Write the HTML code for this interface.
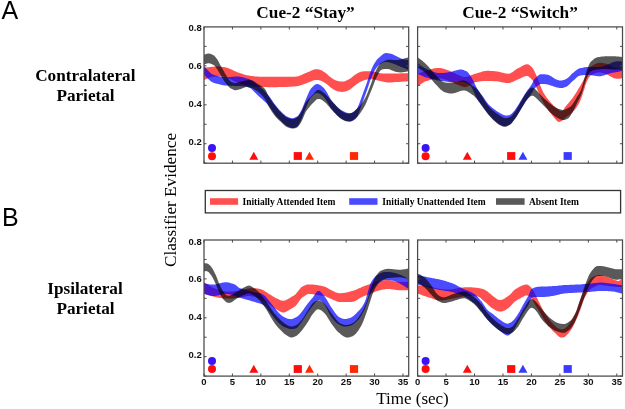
<!DOCTYPE html>
<html><head><meta charset="utf-8">
<style>
html,body{margin:0;padding:0;background:#fff;width:625px;height:409px;overflow:hidden}
svg{display:block;will-change:transform}
</style></head><body>
<svg width="625" height="409" viewBox="0 0 625 409">
<text x="1.5" y="19.3" font-family="Liberation Sans" font-size="25" fill="#000">A</text>
<text x="2" y="226.4" font-family="Liberation Sans" font-size="25" fill="#000">B</text>
<text x="305.5" y="17.9" font-family="Liberation Serif" font-weight="bold" font-size="17.3" text-anchor="middle" fill="#000">Cue-2 “Stay”</text>
<text x="520" y="17.9" font-family="Liberation Serif" font-weight="bold" font-size="17.3" text-anchor="middle" fill="#000">Cue-2 “Switch”</text>
<text x="85.3" y="80.7" font-family="Liberation Serif" font-weight="bold" font-size="17.2" text-anchor="middle" fill="#000">Contralateral</text>
<text x="85.5" y="101.3" font-family="Liberation Serif" font-weight="bold" font-size="17.2" text-anchor="middle" fill="#000">Parietal</text>
<text x="85" y="293.6" font-family="Liberation Serif" font-weight="bold" font-size="17.2" text-anchor="middle" fill="#000">Ipsilateral</text>
<text x="85.5" y="313.8" font-family="Liberation Serif" font-weight="bold" font-size="17.2" text-anchor="middle" fill="#000">Parietal</text>
<text transform="translate(176.4,200) rotate(-90)" font-family="Liberation Serif" font-size="17.2" text-anchor="middle" fill="#000">Classifier Evidence</text>
<text x="412.5" y="403.5" font-family="Liberation Serif" font-size="17" text-anchor="middle" fill="#000">Time (sec)</text>
<rect x="205.3" y="190.5" width="415.3" height="22.4" fill="#fff" stroke="#333" stroke-width="1.3"/>
<rect x="210" y="198.2" width="28.1" height="6.6" fill="#ff0000" fill-opacity="0.69"/>
<text x="242.5" y="205.2" font-family="Liberation Serif" font-weight="bold" font-size="9.5" fill="#000">Initially Attended Item</text>
<rect x="349.2" y="198.2" width="28.3" height="6.6" fill="#0000ff" fill-opacity="0.71"/>
<text x="382.3" y="205.2" font-family="Liberation Serif" font-weight="bold" font-size="9.5" fill="#000">Initially Unattended Item</text>
<rect x="496" y="198.2" width="28.6" height="6.6" fill="#000000" fill-opacity="0.65"/>
<text x="529" y="205.2" font-family="Liberation Serif" font-weight="bold" font-size="9.5" fill="#000">Absent Item</text>
<clipPath id="clipTL"><rect x="204.0" y="26.9" width="204.70" height="136.30"/></clipPath>
<g clip-path="url(#clipTL)">
<path d="M204.0,68.0 L205.0,67.8 L206.0,67.6 L207.0,67.5 L208.0,67.3 L209.0,67.2 L210.0,67.0 L211.0,66.9 L212.0,66.8 L213.0,66.7 L214.0,66.7 L215.0,66.6 L216.0,66.6 L217.0,66.6 L218.0,66.6 L219.0,66.6 L220.0,66.7 L221.0,66.8 L222.0,66.9 L223.0,67.0 L224.0,67.1 L225.0,67.3 L226.0,67.5 L227.0,67.7 L228.0,68.1 L229.0,68.4 L230.0,68.9 L231.0,69.3 L232.0,69.8 L233.0,70.3 L234.0,70.7 L235.0,71.2 L236.0,71.6 L237.0,72.0 L238.0,72.4 L239.0,72.7 L240.0,73.1 L241.0,73.4 L242.0,73.8 L243.0,74.1 L244.0,74.5 L245.0,74.7 L246.0,75.0 L247.0,75.2 L248.0,75.4 L249.0,75.6 L250.0,75.7 L251.0,75.9 L252.0,76.0 L253.0,76.1 L254.0,76.3 L255.0,76.4 L256.0,76.5 L257.0,76.6 L258.0,76.6 L259.0,76.7 L260.0,76.7 L261.0,76.7 L262.0,76.7 L263.0,76.7 L264.0,76.7 L265.0,76.7 L266.0,76.7 L267.0,76.7 L268.0,76.7 L269.0,76.7 L270.0,76.7 L271.0,76.7 L272.0,76.7 L273.0,76.7 L274.0,76.7 L275.0,76.7 L276.0,76.7 L277.0,76.7 L278.0,76.7 L279.0,76.7 L280.0,76.8 L281.0,76.8 L282.0,76.8 L283.0,76.8 L284.0,76.8 L285.0,76.8 L286.0,76.8 L287.0,76.8 L288.0,76.8 L289.0,76.8 L290.0,76.8 L291.0,76.8 L292.0,76.8 L293.0,76.8 L294.0,76.7 L295.0,76.7 L296.0,76.6 L297.0,76.5 L298.0,76.3 L299.0,76.0 L300.0,75.6 L301.0,75.2 L302.0,74.7 L303.0,74.3 L304.0,73.8 L305.0,73.3 L306.0,72.9 L307.0,72.5 L308.0,72.1 L309.0,71.7 L310.0,71.2 L311.0,70.7 L312.0,70.3 L313.0,69.9 L314.0,69.6 L315.0,69.3 L316.0,69.2 L317.0,69.2 L318.0,69.3 L319.0,69.5 L320.0,69.8 L321.0,70.2 L322.0,70.6 L323.0,71.2 L324.0,71.9 L325.0,72.6 L326.0,73.3 L327.0,74.0 L328.0,74.9 L329.0,75.9 L330.0,76.8 L331.0,77.6 L332.0,78.3 L333.0,78.9 L334.0,79.5 L335.0,80.0 L336.0,80.5 L337.0,80.8 L338.0,81.1 L339.0,81.3 L340.0,81.5 L341.0,81.6 L342.0,81.6 L343.0,81.6 L344.0,81.4 L345.0,81.2 L346.0,80.8 L347.0,80.3 L348.0,79.8 L349.0,79.3 L350.0,78.7 L351.0,78.0 L352.0,77.2 L353.0,76.3 L354.0,75.6 L355.0,74.8 L356.0,74.2 L357.0,73.5 L358.0,73.0 L359.0,72.4 L360.0,72.0 L361.0,71.7 L362.0,71.5 L363.0,71.4 L364.0,71.3 L365.0,71.2 L366.0,71.2 L367.0,71.2 L368.0,71.2 L369.0,71.2 L370.0,71.3 L371.0,71.3 L372.0,71.4 L373.0,71.5 L374.0,71.7 L375.0,72.0 L376.0,72.3 L377.0,72.5 L378.0,72.8 L379.0,73.0 L380.0,73.2 L381.0,73.3 L382.0,73.4 L383.0,73.4 L384.0,73.4 L385.0,73.4 L386.0,73.4 L387.0,73.4 L388.0,73.4 L389.0,73.4 L390.0,73.4 L391.0,73.4 L392.0,73.4 L393.0,73.4 L394.0,73.4 L395.0,73.4 L396.0,73.4 L397.0,73.4 L398.0,73.4 L399.0,73.4 L400.0,73.4 L401.0,73.3 L402.0,73.3 L403.0,73.3 L404.0,73.3 L405.0,73.2 L406.0,73.2 L407.0,73.2 L408.0,73.1 L408.7,73.1 L408.7,81.3 L408.0,81.3 L407.0,81.4 L406.0,81.4 L405.0,81.5 L404.0,81.6 L403.0,81.6 L402.0,81.7 L401.0,81.7 L400.0,81.8 L399.0,81.9 L398.0,81.9 L397.0,82.0 L396.0,82.1 L395.0,82.1 L394.0,82.2 L393.0,82.3 L392.0,82.4 L391.0,82.4 L390.0,82.5 L389.0,82.5 L388.0,82.5 L387.0,82.4 L386.0,82.3 L385.0,82.1 L384.0,81.9 L383.0,81.6 L382.0,81.4 L381.0,81.2 L380.0,81.0 L379.0,80.8 L378.0,80.6 L377.0,80.3 L376.0,80.0 L375.0,79.7 L374.0,79.5 L373.0,79.3 L372.0,79.2 L371.0,79.2 L370.0,79.2 L369.0,79.3 L368.0,79.4 L367.0,79.5 L366.0,79.7 L365.0,79.9 L364.0,80.3 L363.0,80.7 L362.0,81.1 L361.0,81.5 L360.0,82.0 L359.0,82.6 L358.0,83.3 L357.0,84.1 L356.0,84.8 L355.0,85.5 L354.0,86.3 L353.0,87.1 L352.0,87.9 L351.0,88.7 L350.0,89.4 L349.0,90.0 L348.0,90.4 L347.0,90.9 L346.0,91.2 L345.0,91.5 L344.0,91.7 L343.0,91.8 L342.0,91.9 L341.0,91.8 L340.0,91.8 L339.0,91.6 L338.0,91.4 L337.0,91.1 L336.0,90.8 L335.0,90.3 L334.0,89.7 L333.0,89.1 L332.0,88.5 L331.0,87.8 L330.0,87.0 L329.0,86.1 L328.0,85.2 L327.0,84.3 L326.0,83.6 L325.0,82.9 L324.0,82.3 L323.0,81.7 L322.0,81.2 L321.0,80.8 L320.0,80.5 L319.0,80.2 L318.0,80.0 L317.0,79.9 L316.0,79.9 L315.0,80.0 L314.0,80.3 L313.0,80.6 L312.0,81.0 L311.0,81.4 L310.0,81.8 L309.0,82.2 L308.0,82.6 L307.0,83.0 L306.0,83.4 L305.0,83.7 L304.0,84.1 L303.0,84.5 L302.0,84.8 L301.0,85.2 L300.0,85.5 L299.0,85.8 L298.0,86.0 L297.0,86.2 L296.0,86.3 L295.0,86.4 L294.0,86.4 L293.0,86.5 L292.0,86.6 L291.0,86.7 L290.0,86.7 L289.0,86.8 L288.0,86.8 L287.0,86.9 L286.0,86.9 L285.0,87.0 L284.0,87.0 L283.0,87.0 L282.0,87.0 L281.0,87.1 L280.0,87.1 L279.0,87.1 L278.0,87.1 L277.0,87.2 L276.0,87.2 L275.0,87.2 L274.0,87.2 L273.0,87.2 L272.0,87.2 L271.0,87.2 L270.0,87.2 L269.0,87.2 L268.0,87.2 L267.0,87.1 L266.0,87.1 L265.0,87.1 L264.0,87.1 L263.0,87.1 L262.0,87.0 L261.0,87.0 L260.0,87.0 L259.0,87.0 L258.0,86.9 L257.0,86.8 L256.0,86.7 L255.0,86.6 L254.0,86.5 L253.0,86.3 L252.0,86.2 L251.0,86.0 L250.0,85.8 L249.0,85.7 L248.0,85.5 L247.0,85.3 L246.0,85.1 L245.0,84.9 L244.0,84.7 L243.0,84.4 L242.0,84.1 L241.0,83.8 L240.0,83.5 L239.0,83.2 L238.0,82.8 L237.0,82.5 L236.0,82.1 L235.0,81.6 L234.0,81.1 L233.0,80.6 L232.0,80.0 L231.0,79.4 L230.0,78.9 L229.0,78.4 L228.0,77.9 L227.0,77.5 L226.0,77.2 L225.0,77.0 L224.0,76.8 L223.0,76.6 L222.0,76.5 L221.0,76.4 L220.0,76.3 L219.0,76.3 L218.0,76.3 L217.0,76.4 L216.0,76.4 L215.0,76.5 L214.0,76.6 L213.0,76.8 L212.0,77.0 L211.0,77.3 L210.0,77.6 L209.0,78.0 L208.0,78.3 L207.0,78.7 L206.0,79.2 L205.0,79.6 L204.0,80.0 Z" fill="#ff0000" fill-opacity="0.69"/>
<path d="M204.0,66.0 L205.0,67.1 L206.0,68.3 L207.0,69.4 L208.0,70.5 L209.0,71.6 L210.0,72.5 L211.0,73.4 L212.0,74.1 L213.0,74.6 L214.0,75.0 L215.0,75.3 L216.0,75.5 L217.0,75.8 L218.0,76.0 L219.0,76.3 L220.0,76.5 L221.0,76.7 L222.0,76.8 L223.0,77.0 L224.0,77.1 L225.0,77.1 L226.0,77.2 L227.0,77.2 L228.0,77.2 L229.0,77.1 L230.0,77.0 L231.0,76.9 L232.0,76.8 L233.0,76.7 L234.0,76.7 L235.0,76.6 L236.0,76.5 L237.0,76.5 L238.0,76.5 L239.0,76.6 L240.0,76.8 L241.0,76.9 L242.0,77.1 L243.0,77.4 L244.0,77.6 L245.0,77.9 L246.0,78.2 L247.0,78.4 L248.0,78.7 L249.0,79.0 L250.0,79.4 L251.0,79.9 L252.0,80.5 L253.0,81.2 L254.0,81.9 L255.0,82.7 L256.0,83.5 L257.0,84.3 L258.0,85.1 L259.0,86.0 L260.0,86.9 L261.0,87.8 L262.0,88.7 L263.0,89.6 L264.0,90.6 L265.0,91.6 L266.0,92.7 L267.0,93.7 L268.0,94.9 L269.0,96.0 L270.0,97.3 L271.0,98.7 L272.0,100.2 L273.0,101.7 L274.0,103.2 L275.0,104.5 L276.0,105.8 L277.0,107.0 L278.0,108.2 L279.0,109.4 L280.0,110.5 L281.0,111.5 L282.0,112.5 L283.0,113.4 L284.0,114.3 L285.0,115.2 L286.0,115.9 L287.0,116.5 L288.0,117.0 L289.0,117.5 L290.0,117.8 L291.0,118.1 L292.0,118.3 L293.0,118.3 L294.0,118.0 L295.0,117.6 L296.0,117.1 L297.0,116.5 L298.0,115.7 L299.0,114.4 L300.0,112.8 L301.0,111.0 L302.0,108.9 L303.0,106.5 L304.0,104.0 L305.0,101.4 L306.0,99.0 L307.0,96.6 L308.0,94.2 L309.0,91.9 L310.0,90.0 L311.0,88.6 L312.0,87.5 L313.0,86.4 L314.0,85.5 L315.0,84.8 L316.0,84.2 L317.0,84.0 L318.0,84.1 L319.0,84.4 L320.0,84.9 L321.0,85.5 L322.0,86.4 L323.0,87.3 L324.0,88.3 L325.0,89.5 L326.0,90.9 L327.0,92.6 L328.0,94.4 L329.0,96.3 L330.0,98.1 L331.0,99.7 L332.0,101.0 L333.0,102.2 L334.0,103.4 L335.0,104.6 L336.0,105.6 L337.0,106.7 L338.0,107.6 L339.0,108.5 L340.0,109.2 L341.0,109.9 L342.0,110.5 L343.0,111.0 L344.0,111.5 L345.0,112.0 L346.0,112.4 L347.0,112.8 L348.0,113.1 L349.0,113.3 L350.0,113.3 L351.0,113.1 L352.0,112.7 L353.0,112.2 L354.0,111.5 L355.0,110.7 L356.0,109.8 L357.0,108.5 L358.0,106.6 L359.0,104.2 L360.0,101.5 L361.0,98.7 L362.0,96.0 L363.0,93.3 L364.0,90.6 L365.0,87.8 L366.0,85.0 L367.0,82.2 L368.0,79.3 L369.0,76.3 L370.0,73.3 L371.0,70.6 L372.0,68.1 L373.0,66.0 L374.0,64.1 L375.0,62.4 L376.0,60.9 L377.0,59.6 L378.0,58.5 L379.0,57.7 L380.0,56.8 L381.0,55.9 L382.0,55.0 L383.0,54.2 L384.0,53.6 L385.0,53.2 L386.0,53.1 L387.0,53.1 L388.0,53.2 L389.0,53.4 L390.0,53.6 L391.0,53.8 L392.0,54.1 L393.0,54.5 L394.0,54.9 L395.0,55.4 L396.0,55.9 L397.0,56.5 L398.0,57.0 L399.0,57.6 L400.0,58.0 L401.0,58.5 L402.0,58.8 L403.0,59.2 L404.0,59.4 L405.0,59.6 L406.0,59.8 L407.0,59.9 L408.0,60.0 L408.7,60.0 L408.7,70.0 L408.0,69.8 L407.0,69.4 L406.0,68.9 L405.0,68.5 L404.0,68.1 L403.0,67.7 L402.0,67.3 L401.0,66.9 L400.0,66.5 L399.0,66.1 L398.0,65.6 L397.0,65.2 L396.0,64.7 L395.0,64.3 L394.0,63.9 L393.0,63.5 L392.0,63.2 L391.0,62.9 L390.0,62.6 L389.0,62.4 L388.0,62.2 L387.0,62.1 L386.0,62.0 L385.0,62.0 L384.0,62.2 L383.0,62.5 L382.0,63.0 L381.0,63.6 L380.0,64.3 L379.0,65.0 L378.0,65.9 L377.0,67.0 L376.0,68.4 L375.0,70.1 L374.0,72.0 L373.0,74.0 L372.0,76.1 L371.0,78.6 L370.0,81.3 L369.0,84.3 L368.0,87.3 L367.0,90.2 L366.0,93.0 L365.0,95.8 L364.0,98.6 L363.0,101.3 L362.0,104.0 L361.0,106.7 L360.0,109.6 L359.0,112.5 L358.0,115.1 L357.0,117.2 L356.0,118.5 L355.0,119.4 L354.0,120.1 L353.0,120.7 L352.0,121.1 L351.0,121.4 L350.0,121.6 L349.0,121.5 L348.0,121.3 L347.0,121.1 L346.0,120.8 L345.0,120.5 L344.0,120.1 L343.0,119.6 L342.0,119.1 L341.0,118.6 L340.0,117.9 L339.0,117.1 L338.0,116.3 L337.0,115.3 L336.0,114.2 L335.0,113.1 L334.0,111.9 L333.0,110.7 L332.0,109.5 L331.0,108.2 L330.0,106.7 L329.0,105.0 L328.0,103.2 L327.0,101.5 L326.0,99.9 L325.0,98.5 L324.0,97.3 L323.0,96.3 L322.0,95.4 L321.0,94.5 L320.0,93.9 L319.0,93.4 L318.0,93.1 L317.0,93.0 L316.0,93.2 L315.0,93.8 L314.0,94.5 L313.0,95.4 L312.0,96.5 L311.0,97.6 L310.0,99.0 L309.0,100.8 L308.0,102.9 L307.0,105.2 L306.0,107.5 L305.0,109.9 L304.0,112.6 L303.0,115.2 L302.0,117.8 L301.0,120.0 L300.0,122.0 L299.0,124.0 L298.0,125.5 L297.0,126.5 L296.0,127.0 L295.0,127.5 L294.0,127.9 L293.0,128.0 L292.0,128.0 L291.0,127.8 L290.0,127.4 L289.0,127.0 L288.0,126.5 L287.0,126.0 L286.0,125.4 L285.0,124.6 L284.0,123.8 L283.0,122.9 L282.0,121.9 L281.0,121.0 L280.0,120.0 L279.0,119.0 L278.0,118.0 L277.0,116.9 L276.0,115.7 L275.0,114.5 L274.0,113.2 L273.0,111.7 L272.0,110.2 L271.0,108.7 L270.0,107.3 L269.0,106.0 L268.0,104.9 L267.0,103.8 L266.0,102.8 L265.0,101.8 L264.0,100.9 L263.0,100.0 L262.0,99.1 L261.0,98.2 L260.0,97.3 L259.0,96.5 L258.0,95.6 L257.0,94.6 L256.0,93.6 L255.0,92.5 L254.0,91.5 L253.0,90.4 L252.0,89.5 L251.0,88.6 L250.0,87.9 L249.0,87.4 L248.0,87.0 L247.0,86.8 L246.0,86.6 L245.0,86.4 L244.0,86.3 L243.0,86.2 L242.0,86.2 L241.0,86.1 L240.0,86.1 L239.0,86.1 L238.0,86.0 L237.0,86.0 L236.0,86.0 L235.0,85.9 L234.0,85.9 L233.0,85.8 L232.0,85.8 L231.0,85.8 L230.0,85.7 L229.0,85.7 L228.0,85.6 L227.0,85.6 L226.0,85.5 L225.0,85.4 L224.0,85.3 L223.0,85.2 L222.0,85.0 L221.0,84.8 L220.0,84.6 L219.0,84.3 L218.0,84.1 L217.0,83.8 L216.0,83.5 L215.0,83.3 L214.0,83.0 L213.0,82.6 L212.0,82.1 L211.0,81.4 L210.0,80.6 L209.0,79.7 L208.0,78.8 L207.0,77.7 L206.0,76.7 L205.0,75.6 L204.0,74.5 Z" fill="#0000ff" fill-opacity="0.71"/>
<path d="M204.0,54.8 L205.0,54.4 L206.0,54.1 L207.0,53.8 L208.0,53.6 L209.0,53.6 L210.0,53.7 L211.0,54.0 L212.0,54.4 L213.0,55.0 L214.0,55.5 L215.0,56.4 L216.0,57.7 L217.0,59.1 L218.0,60.6 L219.0,62.4 L220.0,64.4 L221.0,66.2 L222.0,68.0 L223.0,69.8 L224.0,71.6 L225.0,73.4 L226.0,75.0 L227.0,76.6 L228.0,78.3 L229.0,79.8 L230.0,81.0 L231.0,81.8 L232.0,82.2 L233.0,82.6 L234.0,82.9 L235.0,83.0 L236.0,82.9 L237.0,82.7 L238.0,82.4 L239.0,82.2 L240.0,81.9 L241.0,81.6 L242.0,81.4 L243.0,81.1 L244.0,80.9 L245.0,80.6 L246.0,80.4 L247.0,80.3 L248.0,80.2 L249.0,80.1 L250.0,80.2 L251.0,80.3 L252.0,80.5 L253.0,80.8 L254.0,81.4 L255.0,82.0 L256.0,82.7 L257.0,83.4 L258.0,84.1 L259.0,84.7 L260.0,85.3 L261.0,85.8 L262.0,86.4 L263.0,87.1 L264.0,88.0 L265.0,89.1 L266.0,90.7 L267.0,92.8 L268.0,95.1 L269.0,97.0 L270.0,98.6 L271.0,100.1 L272.0,101.6 L273.0,102.9 L274.0,104.3 L275.0,105.5 L276.0,106.7 L277.0,108.0 L278.0,109.2 L279.0,110.4 L280.0,111.5 L281.0,112.5 L282.0,113.5 L283.0,114.4 L284.0,115.3 L285.0,116.2 L286.0,116.9 L287.0,117.5 L288.0,117.9 L289.0,118.3 L290.0,118.6 L291.0,118.9 L292.0,119.0 L293.0,119.0 L294.0,118.8 L295.0,118.4 L296.0,118.0 L297.0,117.5 L298.0,116.8 L299.0,115.6 L300.0,114.1 L301.0,112.5 L302.0,110.6 L303.0,108.3 L304.0,106.0 L305.0,103.7 L306.0,102.0 L307.0,100.7 L308.0,99.5 L309.0,98.4 L310.0,97.4 L311.0,96.4 L312.0,95.5 L313.0,94.5 L314.0,93.4 L315.0,92.2 L316.0,91.1 L317.0,90.3 L318.0,89.9 L319.0,89.9 L320.0,90.2 L321.0,90.7 L322.0,91.4 L323.0,92.2 L324.0,93.0 L325.0,93.8 L326.0,94.8 L327.0,95.8 L328.0,96.9 L329.0,98.0 L330.0,99.2 L331.0,100.3 L332.0,101.5 L333.0,102.6 L334.0,103.6 L335.0,104.6 L336.0,105.7 L337.0,106.7 L338.0,107.7 L339.0,108.7 L340.0,109.6 L341.0,110.5 L342.0,111.2 L343.0,111.9 L344.0,112.4 L345.0,112.9 L346.0,113.2 L347.0,113.4 L348.0,113.6 L349.0,113.6 L350.0,113.5 L351.0,113.3 L352.0,112.8 L353.0,112.2 L354.0,111.4 L355.0,110.5 L356.0,109.6 L357.0,108.7 L358.0,107.8 L359.0,106.7 L360.0,105.6 L361.0,104.4 L362.0,103.0 L363.0,101.6 L364.0,100.0 L365.0,98.3 L366.0,96.5 L367.0,94.2 L368.0,91.7 L369.0,89.0 L370.0,86.5 L371.0,83.8 L372.0,81.0 L373.0,78.2 L374.0,75.3 L375.0,72.5 L376.0,70.4 L377.0,68.3 L378.0,66.5 L379.0,64.9 L380.0,63.6 L381.0,62.8 L382.0,62.3 L383.0,61.8 L384.0,61.3 L385.0,60.8 L386.0,60.3 L387.0,60.0 L388.0,59.8 L389.0,59.7 L390.0,59.7 L391.0,59.8 L392.0,59.8 L393.0,59.9 L394.0,60.0 L395.0,60.0 L396.0,60.0 L397.0,60.0 L398.0,59.9 L399.0,59.8 L400.0,59.6 L401.0,59.4 L402.0,59.1 L403.0,58.9 L404.0,58.6 L405.0,58.3 L406.0,58.0 L407.0,57.7 L408.0,57.4 L408.7,57.2 L408.7,71.3 L408.0,71.4 L407.0,71.6 L406.0,71.8 L405.0,72.0 L404.0,72.1 L403.0,72.2 L402.0,72.3 L401.0,72.4 L400.0,72.4 L399.0,72.3 L398.0,72.2 L397.0,72.1 L396.0,71.9 L395.0,71.6 L394.0,71.2 L393.0,70.8 L392.0,70.4 L391.0,70.0 L390.0,69.6 L389.0,69.3 L388.0,69.0 L387.0,68.9 L386.0,68.9 L385.0,68.9 L384.0,69.1 L383.0,69.3 L382.0,69.6 L381.0,70.0 L380.0,71.0 L379.0,72.5 L378.0,74.4 L377.0,76.5 L376.0,78.6 L375.0,80.8 L374.0,83.4 L373.0,86.2 L372.0,88.7 L371.0,91.2 L370.0,93.5 L369.0,96.0 L368.0,98.5 L367.0,101.1 L366.0,103.4 L365.0,105.4 L364.0,107.2 L363.0,108.9 L362.0,110.5 L361.0,112.1 L360.0,113.5 L359.0,114.8 L358.0,115.9 L357.0,116.9 L356.0,117.8 L355.0,118.6 L354.0,119.4 L353.0,120.2 L352.0,120.7 L351.0,121.2 L350.0,121.4 L349.0,121.6 L348.0,121.6 L347.0,121.5 L346.0,121.3 L345.0,121.0 L344.0,120.6 L343.0,120.1 L342.0,119.5 L341.0,118.8 L340.0,118.0 L339.0,117.1 L338.0,116.2 L337.0,115.2 L336.0,114.2 L335.0,113.2 L334.0,112.2 L333.0,111.2 L332.0,110.1 L331.0,108.9 L330.0,107.8 L329.0,106.6 L328.0,105.4 L327.0,104.3 L326.0,103.3 L325.0,102.3 L324.0,101.5 L323.0,100.7 L322.0,100.1 L321.0,99.5 L320.0,99.1 L319.0,98.9 L318.0,98.9 L317.0,99.2 L316.0,99.9 L315.0,100.9 L314.0,101.9 L313.0,103.0 L312.0,104.0 L311.0,105.1 L310.0,106.2 L309.0,107.4 L308.0,108.7 L307.0,110.0 L306.0,111.5 L305.0,113.4 L304.0,115.7 L303.0,118.2 L302.0,120.6 L301.0,122.5 L300.0,124.1 L299.0,125.6 L298.0,126.8 L297.0,127.5 L296.0,127.9 L295.0,128.2 L294.0,128.4 L293.0,128.5 L292.0,128.5 L291.0,128.4 L290.0,128.1 L289.0,127.8 L288.0,127.4 L287.0,127.0 L286.0,126.4 L285.0,125.7 L284.0,124.8 L283.0,123.9 L282.0,123.0 L281.0,122.0 L280.0,121.1 L279.0,120.2 L278.0,119.2 L277.0,118.2 L276.0,117.2 L275.0,116.0 L274.0,114.7 L273.0,113.3 L272.0,111.9 L271.0,110.3 L270.0,108.7 L269.0,107.0 L268.0,105.0 L267.0,102.8 L266.0,100.7 L265.0,99.0 L264.0,97.7 L263.0,96.4 L262.0,95.3 L261.0,94.2 L260.0,93.2 L259.0,92.4 L258.0,91.7 L257.0,91.0 L256.0,90.3 L255.0,89.7 L254.0,89.1 L253.0,88.6 L252.0,88.2 L251.0,87.9 L250.0,87.6 L249.0,87.4 L248.0,87.2 L247.0,87.1 L246.0,87.1 L245.0,87.3 L244.0,87.7 L243.0,88.1 L242.0,88.5 L241.0,88.9 L240.0,89.2 L239.0,89.5 L238.0,89.8 L237.0,90.0 L236.0,90.2 L235.0,90.2 L234.0,90.0 L233.0,89.6 L232.0,89.1 L231.0,88.5 L230.0,87.9 L229.0,87.0 L228.0,86.0 L227.0,84.8 L226.0,83.5 L225.0,82.2 L224.0,80.7 L223.0,79.1 L222.0,77.5 L221.0,75.8 L220.0,74.0 L219.0,72.2 L218.0,70.4 L217.0,68.9 L216.0,67.5 L215.0,66.2 L214.0,65.3 L213.0,64.7 L212.0,64.2 L211.0,63.8 L210.0,63.4 L209.0,63.3 L208.0,63.3 L207.0,63.5 L206.0,63.8 L205.0,64.2 L204.0,64.6 Z" fill="#000000" fill-opacity="0.65"/>
</g>
<circle cx="212" cy="148.1" r="4" fill="#3a14f5"/>
<circle cx="212" cy="156.2" r="4" fill="#ff0d0d"/>
<path d="M253.80,151.80 L258.30,159.80 L249.30,159.80 Z" fill="#ff0d0d"/>
<rect x="293.70" y="152.10" width="8.2" height="7.8" fill="#ff0d0d"/>
<path d="M309.50,151.80 L314.00,159.80 L305.00,159.80 Z" fill="#ff2a00"/>
<rect x="349.90" y="152.10" width="8.2" height="7.8" fill="#ff2a00"/>
<rect x="204.0" y="26.9" width="204.70" height="136.30" fill="none" stroke="#4a4a4a" stroke-width="1.25"/>
<line x1="204.00" y1="163.2" x2="204.00" y2="160.6" stroke="#4a4a4a" stroke-width="1"/>
<line x1="204.00" y1="26.9" x2="204.00" y2="29.5" stroke="#4a4a4a" stroke-width="1"/>
<line x1="232.43" y1="163.2" x2="232.43" y2="160.6" stroke="#4a4a4a" stroke-width="1"/>
<line x1="232.43" y1="26.9" x2="232.43" y2="29.5" stroke="#4a4a4a" stroke-width="1"/>
<line x1="260.86" y1="163.2" x2="260.86" y2="160.6" stroke="#4a4a4a" stroke-width="1"/>
<line x1="260.86" y1="26.9" x2="260.86" y2="29.5" stroke="#4a4a4a" stroke-width="1"/>
<line x1="289.29" y1="163.2" x2="289.29" y2="160.6" stroke="#4a4a4a" stroke-width="1"/>
<line x1="289.29" y1="26.9" x2="289.29" y2="29.5" stroke="#4a4a4a" stroke-width="1"/>
<line x1="317.72" y1="163.2" x2="317.72" y2="160.6" stroke="#4a4a4a" stroke-width="1"/>
<line x1="317.72" y1="26.9" x2="317.72" y2="29.5" stroke="#4a4a4a" stroke-width="1"/>
<line x1="346.15" y1="163.2" x2="346.15" y2="160.6" stroke="#4a4a4a" stroke-width="1"/>
<line x1="346.15" y1="26.9" x2="346.15" y2="29.5" stroke="#4a4a4a" stroke-width="1"/>
<line x1="374.58" y1="163.2" x2="374.58" y2="160.6" stroke="#4a4a4a" stroke-width="1"/>
<line x1="374.58" y1="26.9" x2="374.58" y2="29.5" stroke="#4a4a4a" stroke-width="1"/>
<line x1="403.01" y1="163.2" x2="403.01" y2="160.6" stroke="#4a4a4a" stroke-width="1"/>
<line x1="403.01" y1="26.9" x2="403.01" y2="29.5" stroke="#4a4a4a" stroke-width="1"/>
<line x1="204.0" y1="163.20" x2="206.6" y2="163.20" stroke="#4a4a4a" stroke-width="1"/>
<line x1="408.7" y1="163.20" x2="406.09999999999997" y2="163.20" stroke="#4a4a4a" stroke-width="1"/>
<line x1="204.0" y1="143.73" x2="206.6" y2="143.73" stroke="#4a4a4a" stroke-width="1"/>
<line x1="408.7" y1="143.73" x2="406.09999999999997" y2="143.73" stroke="#4a4a4a" stroke-width="1"/>
<line x1="204.0" y1="124.26" x2="206.6" y2="124.26" stroke="#4a4a4a" stroke-width="1"/>
<line x1="408.7" y1="124.26" x2="406.09999999999997" y2="124.26" stroke="#4a4a4a" stroke-width="1"/>
<line x1="204.0" y1="104.79" x2="206.6" y2="104.79" stroke="#4a4a4a" stroke-width="1"/>
<line x1="408.7" y1="104.79" x2="406.09999999999997" y2="104.79" stroke="#4a4a4a" stroke-width="1"/>
<line x1="204.0" y1="85.31" x2="206.6" y2="85.31" stroke="#4a4a4a" stroke-width="1"/>
<line x1="408.7" y1="85.31" x2="406.09999999999997" y2="85.31" stroke="#4a4a4a" stroke-width="1"/>
<line x1="204.0" y1="65.84" x2="206.6" y2="65.84" stroke="#4a4a4a" stroke-width="1"/>
<line x1="408.7" y1="65.84" x2="406.09999999999997" y2="65.84" stroke="#4a4a4a" stroke-width="1"/>
<line x1="204.0" y1="46.37" x2="206.6" y2="46.37" stroke="#4a4a4a" stroke-width="1"/>
<line x1="408.7" y1="46.37" x2="406.09999999999997" y2="46.37" stroke="#4a4a4a" stroke-width="1"/>
<text x="201.70" y="145.08" font-family="Liberation Sans" font-weight="bold" font-size="9.5" text-anchor="end" fill="#111">0.2</text>
<text x="201.70" y="107.21" font-family="Liberation Sans" font-weight="bold" font-size="9.5" text-anchor="end" fill="#111">0.4</text>
<text x="201.70" y="69.35" font-family="Liberation Sans" font-weight="bold" font-size="9.5" text-anchor="end" fill="#111">0.6</text>
<text x="201.70" y="31.49" font-family="Liberation Sans" font-weight="bold" font-size="9.5" text-anchor="end" fill="#111">0.8</text>
<clipPath id="clipTR"><rect x="417.6" y="26.9" width="204.90" height="136.30"/></clipPath>
<g clip-path="url(#clipTR)">
<path d="M417.6,74.0 L418.6,73.5 L419.6,73.1 L420.6,72.7 L421.6,72.2 L422.6,71.8 L423.6,71.5 L424.6,71.1 L425.6,70.8 L426.6,70.5 L427.6,70.2 L428.6,69.9 L429.6,69.6 L430.6,69.3 L431.6,69.0 L432.6,68.8 L433.6,68.5 L434.6,68.3 L435.6,68.2 L436.6,68.1 L437.6,68.0 L438.6,68.0 L439.6,68.0 L440.6,68.1 L441.6,68.3 L442.6,68.5 L443.6,68.8 L444.6,69.1 L445.6,69.4 L446.6,69.7 L447.6,70.0 L448.6,70.4 L449.6,70.8 L450.6,71.2 L451.6,71.7 L452.6,72.2 L453.6,72.7 L454.6,73.2 L455.6,73.7 L456.6,74.2 L457.6,74.7 L458.6,75.1 L459.6,75.5 L460.6,75.9 L461.6,76.3 L462.6,76.6 L463.6,76.9 L464.6,77.0 L465.6,77.0 L466.6,76.9 L467.6,76.6 L468.6,76.3 L469.6,75.9 L470.6,75.5 L471.6,75.1 L472.6,74.7 L473.6,74.3 L474.6,73.9 L475.6,73.6 L476.6,73.4 L477.6,73.1 L478.6,72.8 L479.6,72.5 L480.6,72.2 L481.6,71.8 L482.6,71.5 L483.6,71.3 L484.6,71.1 L485.6,70.9 L486.6,70.8 L487.6,70.8 L488.6,70.8 L489.6,70.8 L490.6,70.9 L491.6,70.9 L492.6,71.0 L493.6,71.1 L494.6,71.2 L495.6,71.3 L496.6,71.4 L497.6,71.5 L498.6,71.7 L499.6,72.0 L500.6,72.2 L501.6,72.5 L502.6,72.8 L503.6,73.1 L504.6,73.3 L505.6,73.5 L506.6,73.6 L507.6,73.7 L508.6,73.7 L509.6,73.5 L510.6,73.2 L511.6,72.6 L512.6,72.0 L513.6,71.3 L514.6,70.5 L515.6,69.8 L516.6,69.1 L517.6,68.5 L518.6,68.0 L519.6,67.4 L520.6,66.9 L521.6,66.3 L522.6,65.8 L523.6,65.3 L524.6,64.8 L525.6,64.4 L526.6,64.2 L527.6,64.2 L528.6,64.6 L529.6,65.3 L530.6,66.1 L531.6,66.9 L532.6,68.0 L533.6,69.6 L534.6,71.6 L535.6,73.8 L536.6,76.0 L537.6,78.3 L538.6,80.9 L539.6,83.6 L540.6,86.3 L541.6,88.8 L542.6,91.0 L543.6,92.9 L544.6,94.5 L545.6,96.1 L546.6,97.5 L547.6,98.8 L548.6,100.1 L549.6,101.3 L550.6,102.5 L551.6,103.6 L552.6,104.6 L553.6,105.7 L554.6,106.6 L555.6,107.5 L556.6,108.3 L557.6,108.9 L558.6,109.6 L559.6,110.4 L560.6,111.0 L561.6,111.3 L562.6,110.9 L563.6,109.6 L564.6,107.8 L565.6,106.4 L566.6,105.2 L567.6,104.0 L568.6,102.9 L569.6,101.7 L570.6,100.5 L571.6,99.3 L572.6,98.0 L573.6,96.6 L574.6,95.1 L575.6,93.5 L576.6,91.9 L577.6,90.2 L578.6,88.6 L579.6,86.9 L580.6,85.2 L581.6,83.5 L582.6,81.7 L583.6,79.8 L584.6,77.7 L585.6,75.2 L586.6,72.8 L587.6,70.9 L588.6,69.2 L589.6,67.7 L590.6,66.6 L591.6,65.9 L592.6,65.4 L593.6,64.8 L594.6,64.3 L595.6,63.9 L596.6,63.4 L597.6,63.1 L598.6,62.9 L599.6,62.8 L600.6,62.8 L601.6,62.9 L602.6,63.0 L603.6,63.2 L604.6,63.4 L605.6,63.6 L606.6,63.9 L607.6,64.2 L608.6,64.6 L609.6,65.2 L610.6,65.7 L611.6,66.3 L612.6,66.8 L613.6,67.2 L614.6,67.6 L615.6,67.8 L616.6,68.1 L617.6,68.3 L618.6,68.5 L619.6,68.7 L620.6,68.8 L621.6,68.9 L622.5,69.0 L622.5,78.0 L621.6,78.2 L620.6,78.4 L619.6,78.6 L618.6,78.7 L617.6,78.7 L616.6,78.7 L615.6,78.5 L614.6,78.4 L613.6,78.0 L612.6,77.6 L611.6,77.1 L610.6,76.5 L609.6,75.9 L608.6,75.3 L607.6,74.8 L606.6,74.3 L605.6,73.9 L604.6,73.6 L603.6,73.2 L602.6,72.9 L601.6,72.7 L600.6,72.5 L599.6,72.3 L598.6,72.4 L597.6,72.5 L596.6,72.8 L595.6,73.1 L594.6,73.5 L593.6,74.0 L592.6,74.4 L591.6,74.9 L590.6,75.5 L589.6,76.7 L588.6,78.1 L587.6,79.9 L586.6,81.9 L585.6,84.8 L584.6,88.2 L583.6,91.2 L582.6,94.2 L581.6,97.2 L580.6,100.0 L579.6,102.2 L578.6,104.0 L577.6,105.7 L576.6,107.3 L575.6,108.7 L574.6,110.0 L573.6,111.1 L572.6,112.2 L571.6,113.1 L570.6,114.0 L569.6,114.7 L568.6,115.4 L567.6,116.0 L566.6,116.7 L565.6,117.5 L564.6,118.4 L563.6,119.5 L562.6,120.4 L561.6,121.0 L560.6,121.5 L559.6,121.8 L558.6,121.9 L557.6,121.4 L556.6,120.6 L555.6,119.6 L554.6,118.3 L553.6,117.0 L552.6,115.7 L551.6,114.5 L550.6,113.3 L549.6,112.0 L548.6,110.6 L547.6,109.2 L546.6,107.7 L545.6,106.2 L544.6,104.7 L543.6,103.0 L542.6,101.3 L541.6,99.3 L540.6,97.1 L539.6,94.8 L538.6,92.4 L537.6,90.1 L536.6,88.0 L535.6,85.9 L534.6,83.8 L533.6,81.9 L532.6,80.3 L531.6,79.2 L530.6,78.3 L529.6,77.4 L528.6,76.6 L527.6,76.1 L526.6,75.9 L525.6,76.1 L524.6,76.4 L523.6,76.8 L522.6,77.3 L521.6,77.7 L520.6,78.2 L519.6,78.7 L518.6,79.2 L517.6,79.6 L516.6,80.0 L515.6,80.5 L514.6,81.0 L513.6,81.5 L512.6,81.9 L511.6,82.3 L510.6,82.6 L509.6,82.9 L508.6,83.0 L507.6,83.0 L506.6,83.0 L505.6,82.9 L504.6,82.7 L503.6,82.6 L502.6,82.4 L501.6,82.2 L500.6,82.0 L499.6,81.8 L498.6,81.6 L497.6,81.5 L496.6,81.3 L495.6,81.3 L494.6,81.2 L493.6,81.2 L492.6,81.1 L491.6,81.1 L490.6,81.0 L489.6,81.0 L488.6,81.0 L487.6,81.0 L486.6,81.0 L485.6,81.0 L484.6,81.0 L483.6,81.1 L482.6,81.1 L481.6,81.2 L480.6,81.3 L479.6,81.4 L478.6,81.5 L477.6,81.7 L476.6,81.9 L475.6,82.1 L474.6,82.5 L473.6,83.0 L472.6,83.5 L471.6,84.1 L470.6,84.8 L469.6,85.4 L468.6,86.0 L467.6,86.4 L466.6,86.8 L465.6,87.0 L464.6,87.0 L463.6,86.9 L462.6,86.6 L461.6,86.3 L460.6,85.9 L459.6,85.5 L458.6,85.1 L457.6,84.7 L456.6,84.3 L455.6,83.9 L454.6,83.4 L453.6,82.9 L452.6,82.5 L451.6,82.0 L450.6,81.6 L449.6,81.2 L448.6,80.8 L447.6,80.4 L446.6,80.1 L445.6,79.8 L444.6,79.5 L443.6,79.2 L442.6,79.0 L441.6,78.8 L440.6,78.6 L439.6,78.5 L438.6,78.5 L437.6,78.5 L436.6,78.6 L435.6,78.7 L434.6,78.8 L433.6,79.0 L432.6,79.3 L431.6,79.5 L430.6,79.8 L429.6,80.1 L428.6,80.4 L427.6,80.7 L426.6,81.0 L425.6,81.3 L424.6,81.8 L423.6,82.3 L422.6,82.9 L421.6,83.6 L420.6,84.3 L419.6,85.1 L418.6,85.8 L417.6,86.6 Z" fill="#ff0000" fill-opacity="0.69"/>
<path d="M417.6,63.1 L418.6,63.9 L419.6,64.6 L420.6,65.4 L421.6,66.1 L422.6,66.8 L423.6,67.4 L424.6,68.0 L425.6,68.6 L426.6,69.0 L427.6,69.5 L428.6,69.9 L429.6,70.4 L430.6,70.8 L431.6,71.2 L432.6,71.6 L433.6,72.0 L434.6,72.3 L435.6,72.6 L436.6,72.8 L437.6,72.9 L438.6,73.0 L439.6,73.0 L440.6,73.0 L441.6,73.0 L442.6,73.0 L443.6,72.9 L444.6,72.8 L445.6,72.7 L446.6,72.6 L447.6,72.4 L448.6,72.3 L449.6,72.1 L450.6,71.9 L451.6,71.7 L452.6,71.4 L453.6,71.1 L454.6,70.8 L455.6,70.5 L456.6,70.2 L457.6,69.9 L458.6,69.7 L459.6,69.5 L460.6,69.4 L461.6,69.5 L462.6,69.7 L463.6,70.0 L464.6,70.4 L465.6,70.9 L466.6,71.3 L467.6,72.0 L468.6,73.2 L469.6,74.6 L470.6,76.2 L471.6,77.6 L472.6,79.4 L473.6,81.4 L474.6,83.6 L475.6,85.7 L476.6,87.6 L477.6,89.2 L478.6,90.7 L479.6,92.1 L480.6,93.4 L481.6,94.8 L482.6,96.1 L483.6,97.6 L484.6,99.1 L485.6,100.5 L486.6,101.9 L487.6,103.2 L488.6,104.4 L489.6,105.4 L490.6,106.3 L491.6,107.2 L492.6,108.0 L493.6,108.8 L494.6,109.5 L495.6,110.3 L496.6,111.0 L497.6,111.7 L498.6,112.3 L499.6,112.8 L500.6,113.4 L501.6,114.0 L502.6,114.5 L503.6,115.0 L504.6,115.3 L505.6,115.5 L506.6,115.5 L507.6,115.4 L508.6,115.2 L509.6,114.9 L510.6,114.4 L511.6,113.7 L512.6,112.7 L513.6,111.6 L514.6,110.4 L515.6,109.1 L516.6,107.6 L517.6,106.1 L518.6,104.4 L519.6,102.7 L520.6,101.0 L521.6,99.4 L522.6,97.8 L523.6,96.2 L524.6,94.6 L525.6,93.0 L526.6,91.5 L527.6,90.0 L528.6,88.7 L529.6,87.4 L530.6,86.1 L531.6,84.6 L532.6,82.8 L533.6,80.5 L534.6,79.0 L535.6,77.9 L536.6,76.9 L537.6,76.0 L538.6,75.2 L539.6,74.6 L540.6,74.3 L541.6,74.2 L542.6,74.2 L543.6,74.2 L544.6,74.3 L545.6,74.4 L546.6,74.6 L547.6,74.8 L548.6,75.1 L549.6,75.4 L550.6,75.9 L551.6,76.5 L552.6,77.2 L553.6,77.9 L554.6,78.6 L555.6,79.2 L556.6,79.6 L557.6,80.0 L558.6,80.3 L559.6,80.4 L560.6,80.5 L561.6,80.5 L562.6,80.3 L563.6,80.0 L564.6,79.7 L565.6,79.2 L566.6,78.7 L567.6,78.1 L568.6,77.3 L569.6,76.2 L570.6,75.2 L571.6,74.1 L572.6,73.2 L573.6,72.4 L574.6,71.5 L575.6,70.7 L576.6,69.9 L577.6,69.2 L578.6,68.7 L579.6,68.3 L580.6,68.1 L581.6,67.9 L582.6,67.7 L583.6,67.5 L584.6,67.3 L585.6,67.2 L586.6,67.0 L587.6,66.9 L588.6,66.9 L589.6,66.9 L590.6,66.9 L591.6,66.9 L592.6,67.0 L593.6,67.0 L594.6,67.1 L595.6,67.1 L596.6,67.1 L597.6,67.1 L598.6,67.1 L599.6,67.0 L600.6,66.9 L601.6,66.7 L602.6,66.4 L603.6,66.1 L604.6,65.8 L605.6,65.4 L606.6,65.0 L607.6,64.6 L608.6,64.3 L609.6,63.8 L610.6,63.3 L611.6,62.8 L612.6,62.3 L613.6,61.9 L614.6,61.7 L615.6,61.5 L616.6,61.3 L617.6,61.2 L618.6,61.2 L619.6,61.2 L620.6,61.3 L621.6,61.4 L622.5,61.5 L622.5,71.0 L621.6,71.1 L620.6,71.3 L619.6,71.5 L618.6,71.7 L617.6,71.9 L616.6,72.1 L615.6,72.3 L614.6,72.5 L613.6,72.6 L612.6,72.8 L611.6,73.1 L610.6,73.3 L609.6,73.6 L608.6,73.8 L607.6,74.1 L606.6,74.4 L605.6,74.8 L604.6,75.2 L603.6,75.5 L602.6,75.8 L601.6,76.1 L600.6,76.2 L599.6,76.3 L598.6,76.3 L597.6,76.2 L596.6,76.1 L595.6,76.0 L594.6,75.8 L593.6,75.6 L592.6,75.4 L591.6,75.3 L590.6,75.1 L589.6,75.0 L588.6,74.9 L587.6,74.9 L586.6,74.9 L585.6,74.9 L584.6,74.9 L583.6,75.0 L582.6,75.2 L581.6,75.3 L580.6,75.5 L579.6,75.7 L578.6,76.1 L577.6,76.7 L576.6,77.5 L575.6,78.4 L574.6,79.4 L573.6,80.3 L572.6,81.2 L571.6,82.1 L570.6,83.1 L569.6,84.2 L568.6,85.1 L567.6,85.9 L566.6,86.5 L565.6,86.9 L564.6,87.3 L563.6,87.7 L562.6,87.9 L561.6,88.0 L560.6,88.0 L559.6,87.9 L558.6,87.8 L557.6,87.6 L556.6,87.4 L555.6,87.1 L554.6,86.8 L553.6,86.4 L552.6,86.1 L551.6,85.7 L550.6,85.4 L549.6,85.0 L548.6,84.7 L547.6,84.5 L546.6,84.3 L545.6,84.2 L544.6,84.1 L543.6,84.0 L542.6,84.0 L541.6,84.0 L540.6,84.1 L539.6,84.4 L538.6,85.0 L537.6,85.7 L536.6,86.5 L535.6,87.5 L534.6,88.6 L533.6,89.9 L532.6,91.9 L531.6,93.6 L530.6,95.0 L529.6,96.3 L528.6,97.6 L527.6,98.8 L526.6,100.3 L525.6,101.8 L524.6,103.4 L523.6,105.0 L522.6,106.6 L521.6,108.2 L520.6,109.8 L519.6,111.5 L518.6,113.2 L517.6,114.9 L516.6,116.4 L515.6,117.9 L514.6,119.2 L513.6,120.6 L512.6,121.8 L511.6,123.0 L510.6,123.9 L509.6,124.5 L508.6,125.1 L507.6,125.6 L506.6,126.0 L505.6,126.3 L504.6,126.3 L503.6,126.1 L502.6,125.8 L501.6,125.4 L500.6,124.9 L499.6,124.4 L498.6,123.7 L497.6,123.0 L496.6,122.3 L495.6,121.4 L494.6,120.5 L493.6,119.6 L492.6,118.6 L491.6,117.6 L490.6,116.5 L489.6,115.4 L488.6,114.2 L487.6,113.0 L486.6,111.7 L485.6,110.4 L484.6,109.0 L483.6,107.5 L482.6,106.1 L481.6,104.8 L480.6,103.5 L479.6,102.2 L478.6,100.9 L477.6,99.4 L476.6,97.8 L475.6,95.9 L474.6,93.7 L473.6,91.4 L472.6,89.3 L471.6,87.4 L470.6,86.1 L469.6,84.9 L468.6,84.0 L467.6,83.4 L466.6,83.0 L465.6,82.7 L464.6,82.4 L463.6,82.1 L462.6,81.9 L461.6,81.7 L460.6,81.5 L459.6,81.5 L458.6,81.5 L457.6,81.6 L456.6,81.7 L455.6,81.8 L454.6,81.9 L453.6,81.9 L452.6,82.0 L451.6,82.0 L450.6,82.0 L449.6,82.0 L448.6,81.9 L447.6,81.8 L446.6,81.7 L445.6,81.6 L444.6,81.4 L443.6,81.3 L442.6,81.1 L441.6,81.0 L440.6,80.8 L439.6,80.7 L438.6,80.5 L437.6,80.4 L436.6,80.2 L435.6,80.0 L434.6,79.8 L433.6,79.5 L432.6,79.3 L431.6,79.0 L430.6,78.7 L429.6,78.4 L428.6,78.1 L427.6,77.8 L426.6,77.5 L425.6,77.2 L424.6,76.9 L423.6,76.5 L422.6,76.1 L421.6,75.6 L420.6,75.2 L419.6,74.7 L418.6,74.2 L417.6,73.7 Z" fill="#0000ff" fill-opacity="0.71"/>
<path d="M417.6,57.4 L418.6,58.0 L419.6,58.7 L420.6,59.4 L421.6,60.2 L422.6,61.1 L423.6,61.9 L424.6,62.8 L425.6,63.8 L426.6,64.7 L427.6,65.7 L428.6,66.8 L429.6,68.0 L430.6,69.2 L431.6,70.4 L432.6,71.6 L433.6,72.8 L434.6,73.9 L435.6,74.9 L436.6,75.9 L437.6,76.9 L438.6,78.0 L439.6,79.0 L440.6,79.9 L441.6,80.7 L442.6,81.5 L443.6,82.0 L444.6,82.4 L445.6,82.6 L446.6,82.7 L447.6,82.8 L448.6,82.8 L449.6,82.7 L450.6,82.6 L451.6,82.5 L452.6,82.4 L453.6,82.3 L454.6,82.1 L455.6,81.8 L456.6,81.6 L457.6,81.4 L458.6,81.1 L459.6,80.9 L460.6,80.7 L461.6,80.6 L462.6,80.5 L463.6,80.5 L464.6,80.7 L465.6,81.0 L466.6,81.5 L467.6,82.1 L468.6,82.8 L469.6,83.6 L470.6,84.4 L471.6,85.1 L472.6,85.9 L473.6,86.5 L474.6,87.1 L475.6,87.8 L476.6,88.6 L477.6,89.7 L478.6,91.0 L479.6,92.5 L480.6,94.0 L481.6,95.6 L482.6,97.2 L483.6,98.7 L484.6,100.4 L485.6,102.0 L486.6,103.6 L487.6,105.0 L488.6,106.2 L489.6,107.3 L490.6,108.4 L491.6,109.3 L492.6,110.2 L493.6,111.1 L494.6,111.9 L495.6,112.7 L496.6,113.4 L497.6,114.1 L498.6,114.8 L499.6,115.4 L500.6,116.0 L501.6,116.6 L502.6,117.2 L503.6,117.7 L504.6,118.0 L505.6,118.2 L506.6,118.1 L507.6,117.9 L508.6,117.6 L509.6,117.2 L510.6,116.7 L511.6,115.9 L512.6,114.8 L513.6,113.6 L514.6,112.3 L515.6,110.9 L516.6,109.3 L517.6,107.6 L518.6,105.8 L519.6,104.0 L520.6,102.2 L521.6,100.5 L522.6,98.7 L523.6,96.9 L524.6,95.2 L525.6,93.7 L526.6,92.4 L527.6,91.2 L528.6,90.0 L529.6,88.9 L530.6,88.1 L531.6,87.6 L532.6,87.6 L533.6,88.0 L534.6,88.6 L535.6,89.5 L536.6,90.4 L537.6,91.5 L538.6,92.7 L539.6,93.8 L540.6,95.0 L541.6,96.1 L542.6,97.1 L543.6,98.0 L544.6,98.9 L545.6,99.8 L546.6,100.7 L547.6,101.6 L548.6,102.5 L549.6,103.3 L550.6,104.1 L551.6,104.8 L552.6,105.6 L553.6,106.2 L554.6,106.8 L555.6,107.4 L556.6,107.9 L557.6,108.4 L558.6,108.9 L559.6,109.3 L560.6,109.6 L561.6,109.8 L562.6,110.0 L563.6,110.0 L564.6,109.7 L565.6,109.3 L566.6,108.8 L567.6,108.2 L568.6,107.7 L569.6,107.1 L570.6,106.4 L571.6,105.4 L572.6,104.2 L573.6,102.7 L574.6,101.1 L575.6,99.4 L576.6,97.6 L577.6,95.9 L578.6,94.4 L579.6,92.9 L580.6,91.1 L581.6,88.7 L582.6,85.2 L583.6,81.4 L584.6,77.9 L585.6,74.4 L586.6,71.1 L587.6,68.4 L588.6,65.8 L589.6,63.6 L590.6,62.1 L591.6,61.1 L592.6,60.2 L593.6,59.3 L594.6,58.5 L595.6,57.9 L596.6,57.5 L597.6,57.2 L598.6,57.1 L599.6,56.9 L600.6,56.7 L601.6,56.6 L602.6,56.5 L603.6,56.4 L604.6,56.3 L605.6,56.3 L606.6,56.3 L607.6,56.3 L608.6,56.3 L609.6,56.3 L610.6,56.3 L611.6,56.3 L612.6,56.3 L613.6,56.3 L614.6,56.3 L615.6,56.3 L616.6,56.4 L617.6,56.5 L618.6,56.6 L619.6,56.7 L620.6,56.8 L621.6,56.9 L622.5,57.0 L622.5,69.5 L621.6,69.5 L620.6,69.5 L619.6,69.5 L618.6,69.6 L617.6,69.6 L616.6,69.6 L615.6,69.5 L614.6,69.5 L613.6,69.5 L612.6,69.4 L611.6,69.3 L610.6,69.3 L609.6,69.2 L608.6,69.2 L607.6,69.1 L606.6,69.1 L605.6,69.0 L604.6,69.0 L603.6,69.0 L602.6,69.0 L601.6,69.1 L600.6,69.2 L599.6,69.3 L598.6,69.4 L597.6,69.5 L596.6,69.6 L595.6,69.7 L594.6,70.0 L593.6,70.3 L592.6,70.6 L591.6,71.1 L590.6,71.6 L589.6,72.6 L588.6,74.2 L587.6,76.2 L586.6,78.4 L585.6,81.1 L584.6,84.2 L583.6,87.2 L582.6,90.5 L581.6,93.7 L580.6,96.1 L579.6,98.2 L578.6,100.1 L577.6,102.0 L576.6,104.0 L575.6,106.2 L574.6,108.3 L573.6,110.3 L572.6,112.2 L571.6,113.8 L570.6,115.4 L569.6,116.9 L568.6,118.1 L567.6,118.7 L566.6,119.2 L565.6,119.6 L564.6,119.9 L563.6,120.0 L562.6,119.9 L561.6,119.7 L560.6,119.4 L559.6,119.0 L558.6,118.5 L557.6,118.0 L556.6,117.4 L555.6,116.7 L554.6,116.0 L553.6,115.3 L552.6,114.5 L551.6,113.6 L550.6,112.7 L549.6,111.7 L548.6,110.7 L547.6,109.6 L546.6,108.6 L545.6,107.5 L544.6,106.5 L543.6,105.6 L542.6,104.6 L541.6,103.6 L540.6,102.6 L539.6,101.5 L538.6,100.4 L537.6,99.4 L536.6,98.4 L535.6,97.5 L534.6,96.7 L533.6,96.1 L532.6,95.7 L531.6,95.7 L530.6,96.2 L529.6,96.9 L528.6,98.0 L527.6,99.1 L526.6,100.3 L525.6,101.6 L524.6,103.1 L523.6,104.7 L522.6,106.5 L521.6,108.2 L520.6,109.9 L519.6,111.5 L518.6,113.2 L517.6,114.8 L516.6,116.4 L515.6,117.9 L514.6,119.3 L513.6,120.7 L512.6,122.0 L511.6,123.2 L510.6,124.2 L509.6,124.9 L508.6,125.5 L507.6,126.0 L506.6,126.5 L505.6,126.8 L504.6,126.8 L503.6,126.7 L502.6,126.4 L501.6,126.0 L500.6,125.5 L499.6,125.0 L498.6,124.4 L497.6,123.7 L496.6,122.9 L495.6,122.1 L494.6,121.2 L493.6,120.3 L492.6,119.4 L491.6,118.3 L490.6,117.3 L489.6,116.1 L488.6,114.9 L487.6,113.7 L486.6,112.4 L485.6,111.1 L484.6,109.8 L483.6,108.5 L482.6,107.1 L481.6,105.7 L480.6,104.3 L479.6,102.8 L478.6,101.4 L477.6,100.0 L476.6,98.8 L475.6,97.7 L474.6,96.6 L473.6,95.6 L472.6,94.9 L471.6,94.2 L470.6,93.5 L469.6,92.8 L468.6,92.2 L467.6,91.6 L466.6,91.1 L465.6,90.8 L464.6,90.5 L463.6,90.5 L462.6,90.6 L461.6,90.8 L460.6,91.0 L459.6,91.3 L458.6,91.7 L457.6,92.0 L456.6,92.4 L455.6,92.7 L454.6,93.0 L453.6,93.2 L452.6,93.4 L451.6,93.5 L450.6,93.5 L449.6,93.4 L448.6,93.3 L447.6,93.1 L446.6,92.8 L445.6,92.5 L444.6,92.2 L443.6,91.7 L442.6,91.1 L441.6,90.3 L440.6,89.4 L439.6,88.4 L438.6,87.4 L437.6,86.3 L436.6,85.2 L435.6,84.2 L434.6,83.2 L433.6,82.0 L432.6,80.8 L431.6,79.6 L430.6,78.4 L429.6,77.2 L428.6,76.0 L427.6,75.0 L426.6,74.0 L425.6,73.1 L424.6,72.2 L423.6,71.4 L422.6,70.7 L421.6,70.0 L420.6,69.4 L419.6,68.8 L418.6,68.3 L417.6,67.9 Z" fill="#000000" fill-opacity="0.65"/>
</g>
<circle cx="425.6" cy="148.1" r="4" fill="#3a14f5"/>
<circle cx="425.6" cy="156.2" r="4" fill="#ff0d0d"/>
<path d="M467.30,151.80 L471.80,159.80 L462.80,159.80 Z" fill="#ff0d0d"/>
<rect x="507.10" y="152.10" width="8.2" height="7.8" fill="#ff0d0d"/>
<path d="M522.90,151.80 L527.40,159.80 L518.40,159.80 Z" fill="#3a3aff"/>
<rect x="563.60" y="152.10" width="8.2" height="7.8" fill="#3a3aff"/>
<rect x="417.6" y="26.9" width="204.90" height="136.30" fill="none" stroke="#4a4a4a" stroke-width="1.25"/>
<line x1="417.60" y1="163.2" x2="417.60" y2="160.6" stroke="#4a4a4a" stroke-width="1"/>
<line x1="417.60" y1="26.9" x2="417.60" y2="29.5" stroke="#4a4a4a" stroke-width="1"/>
<line x1="446.06" y1="163.2" x2="446.06" y2="160.6" stroke="#4a4a4a" stroke-width="1"/>
<line x1="446.06" y1="26.9" x2="446.06" y2="29.5" stroke="#4a4a4a" stroke-width="1"/>
<line x1="474.52" y1="163.2" x2="474.52" y2="160.6" stroke="#4a4a4a" stroke-width="1"/>
<line x1="474.52" y1="26.9" x2="474.52" y2="29.5" stroke="#4a4a4a" stroke-width="1"/>
<line x1="502.98" y1="163.2" x2="502.98" y2="160.6" stroke="#4a4a4a" stroke-width="1"/>
<line x1="502.98" y1="26.9" x2="502.98" y2="29.5" stroke="#4a4a4a" stroke-width="1"/>
<line x1="531.43" y1="163.2" x2="531.43" y2="160.6" stroke="#4a4a4a" stroke-width="1"/>
<line x1="531.43" y1="26.9" x2="531.43" y2="29.5" stroke="#4a4a4a" stroke-width="1"/>
<line x1="559.89" y1="163.2" x2="559.89" y2="160.6" stroke="#4a4a4a" stroke-width="1"/>
<line x1="559.89" y1="26.9" x2="559.89" y2="29.5" stroke="#4a4a4a" stroke-width="1"/>
<line x1="588.35" y1="163.2" x2="588.35" y2="160.6" stroke="#4a4a4a" stroke-width="1"/>
<line x1="588.35" y1="26.9" x2="588.35" y2="29.5" stroke="#4a4a4a" stroke-width="1"/>
<line x1="616.81" y1="163.2" x2="616.81" y2="160.6" stroke="#4a4a4a" stroke-width="1"/>
<line x1="616.81" y1="26.9" x2="616.81" y2="29.5" stroke="#4a4a4a" stroke-width="1"/>
<line x1="417.6" y1="163.20" x2="420.20000000000005" y2="163.20" stroke="#4a4a4a" stroke-width="1"/>
<line x1="622.5" y1="163.20" x2="619.9" y2="163.20" stroke="#4a4a4a" stroke-width="1"/>
<line x1="417.6" y1="143.73" x2="420.20000000000005" y2="143.73" stroke="#4a4a4a" stroke-width="1"/>
<line x1="622.5" y1="143.73" x2="619.9" y2="143.73" stroke="#4a4a4a" stroke-width="1"/>
<line x1="417.6" y1="124.26" x2="420.20000000000005" y2="124.26" stroke="#4a4a4a" stroke-width="1"/>
<line x1="622.5" y1="124.26" x2="619.9" y2="124.26" stroke="#4a4a4a" stroke-width="1"/>
<line x1="417.6" y1="104.79" x2="420.20000000000005" y2="104.79" stroke="#4a4a4a" stroke-width="1"/>
<line x1="622.5" y1="104.79" x2="619.9" y2="104.79" stroke="#4a4a4a" stroke-width="1"/>
<line x1="417.6" y1="85.31" x2="420.20000000000005" y2="85.31" stroke="#4a4a4a" stroke-width="1"/>
<line x1="622.5" y1="85.31" x2="619.9" y2="85.31" stroke="#4a4a4a" stroke-width="1"/>
<line x1="417.6" y1="65.84" x2="420.20000000000005" y2="65.84" stroke="#4a4a4a" stroke-width="1"/>
<line x1="622.5" y1="65.84" x2="619.9" y2="65.84" stroke="#4a4a4a" stroke-width="1"/>
<line x1="417.6" y1="46.37" x2="420.20000000000005" y2="46.37" stroke="#4a4a4a" stroke-width="1"/>
<line x1="622.5" y1="46.37" x2="619.9" y2="46.37" stroke="#4a4a4a" stroke-width="1"/>
<clipPath id="clipBL"><rect x="204.0" y="240.0" width="204.70" height="136.10"/></clipPath>
<g clip-path="url(#clipBL)">
<path d="M204.0,282.0 L205.0,282.7 L206.0,283.4 L207.0,284.1 L208.0,284.8 L209.0,285.4 L210.0,286.0 L211.0,286.6 L212.0,287.2 L213.0,287.7 L214.0,288.1 L215.0,288.5 L216.0,288.9 L217.0,289.2 L218.0,289.6 L219.0,289.9 L220.0,290.2 L221.0,290.5 L222.0,290.8 L223.0,291.0 L224.0,291.2 L225.0,291.3 L226.0,291.4 L227.0,291.4 L228.0,291.5 L229.0,291.5 L230.0,291.5 L231.0,291.5 L232.0,291.4 L233.0,291.4 L234.0,291.3 L235.0,291.2 L236.0,291.1 L237.0,291.0 L238.0,290.9 L239.0,290.7 L240.0,290.5 L241.0,290.2 L242.0,290.0 L243.0,289.7 L244.0,289.5 L245.0,289.2 L246.0,289.0 L247.0,288.8 L248.0,288.6 L249.0,288.4 L250.0,288.3 L251.0,288.3 L252.0,288.2 L253.0,288.2 L254.0,288.2 L255.0,288.2 L256.0,288.3 L257.0,288.4 L258.0,288.6 L259.0,288.8 L260.0,289.0 L261.0,289.3 L262.0,289.7 L263.0,290.1 L264.0,290.7 L265.0,291.3 L266.0,291.9 L267.0,292.6 L268.0,293.3 L269.0,293.9 L270.0,294.5 L271.0,295.1 L272.0,295.8 L273.0,296.4 L274.0,297.0 L275.0,297.6 L276.0,298.2 L277.0,298.6 L278.0,299.1 L279.0,299.6 L280.0,300.0 L281.0,300.4 L282.0,300.6 L283.0,300.7 L284.0,300.7 L285.0,300.5 L286.0,300.1 L287.0,299.6 L288.0,299.0 L289.0,298.4 L290.0,297.8 L291.0,297.2 L292.0,296.6 L293.0,296.0 L294.0,295.4 L295.0,294.7 L296.0,293.8 L297.0,292.6 L298.0,291.3 L299.0,290.0 L300.0,288.7 L301.0,287.6 L302.0,286.8 L303.0,286.2 L304.0,285.7 L305.0,285.3 L306.0,284.9 L307.0,284.6 L308.0,284.4 L309.0,284.4 L310.0,284.4 L311.0,284.5 L312.0,284.6 L313.0,284.6 L314.0,284.7 L315.0,284.8 L316.0,284.9 L317.0,285.1 L318.0,285.3 L319.0,285.4 L320.0,285.6 L321.0,285.8 L322.0,286.0 L323.0,286.2 L324.0,286.5 L325.0,286.8 L326.0,287.3 L327.0,287.8 L328.0,288.3 L329.0,288.9 L330.0,289.4 L331.0,290.0 L332.0,290.4 L333.0,290.9 L334.0,291.4 L335.0,291.9 L336.0,292.4 L337.0,292.8 L338.0,293.0 L339.0,293.2 L340.0,293.2 L341.0,293.2 L342.0,293.1 L343.0,293.0 L344.0,292.9 L345.0,292.7 L346.0,292.6 L347.0,292.4 L348.0,292.1 L349.0,291.9 L350.0,291.6 L351.0,291.3 L352.0,291.0 L353.0,290.7 L354.0,290.4 L355.0,290.1 L356.0,289.7 L357.0,289.3 L358.0,288.8 L359.0,288.3 L360.0,287.9 L361.0,287.4 L362.0,287.0 L363.0,286.6 L364.0,286.2 L365.0,285.8 L366.0,285.5 L367.0,285.1 L368.0,284.7 L369.0,284.4 L370.0,284.0 L371.0,283.6 L372.0,283.2 L373.0,282.8 L374.0,282.4 L375.0,282.0 L376.0,281.7 L377.0,281.4 L378.0,281.2 L379.0,281.0 L380.0,280.8 L381.0,280.6 L382.0,280.5 L383.0,280.4 L384.0,280.2 L385.0,280.2 L386.0,280.1 L387.0,280.1 L388.0,280.1 L389.0,280.2 L390.0,280.3 L391.0,280.5 L392.0,280.7 L393.0,281.0 L394.0,281.2 L395.0,281.4 L396.0,281.7 L397.0,281.8 L398.0,282.0 L399.0,282.1 L400.0,282.1 L401.0,282.1 L402.0,282.1 L403.0,282.1 L404.0,282.0 L405.0,281.9 L406.0,281.8 L407.0,281.7 L408.0,281.6 L408.7,281.5 L408.7,290.2 L408.0,290.2 L407.0,290.3 L406.0,290.3 L405.0,290.3 L404.0,290.3 L403.0,290.3 L402.0,290.3 L401.0,290.3 L400.0,290.3 L399.0,290.2 L398.0,290.2 L397.0,290.1 L396.0,290.0 L395.0,289.8 L394.0,289.6 L393.0,289.5 L392.0,289.3 L391.0,289.2 L390.0,289.1 L389.0,289.0 L388.0,289.0 L387.0,289.0 L386.0,289.1 L385.0,289.2 L384.0,289.4 L383.0,289.6 L382.0,289.8 L381.0,290.0 L380.0,290.2 L379.0,290.5 L378.0,290.8 L377.0,291.1 L376.0,291.4 L375.0,291.8 L374.0,292.2 L373.0,292.7 L372.0,293.1 L371.0,293.6 L370.0,294.0 L369.0,294.4 L368.0,294.8 L367.0,295.1 L366.0,295.5 L365.0,295.8 L364.0,296.2 L363.0,296.6 L362.0,297.0 L361.0,297.5 L360.0,298.1 L359.0,298.7 L358.0,299.3 L357.0,300.0 L356.0,300.5 L355.0,301.0 L354.0,301.4 L353.0,301.7 L352.0,301.8 L351.0,301.9 L350.0,301.9 L349.0,302.0 L348.0,302.0 L347.0,302.0 L346.0,302.0 L345.0,302.1 L344.0,302.1 L343.0,302.1 L342.0,302.1 L341.0,302.1 L340.0,302.1 L339.0,302.0 L338.0,301.8 L337.0,301.5 L336.0,301.1 L335.0,300.6 L334.0,300.2 L333.0,299.7 L332.0,299.2 L331.0,298.8 L330.0,298.4 L329.0,297.9 L328.0,297.4 L327.0,297.0 L326.0,296.6 L325.0,296.3 L324.0,296.0 L323.0,295.8 L322.0,295.7 L321.0,295.5 L320.0,295.4 L319.0,295.3 L318.0,295.1 L317.0,295.0 L316.0,294.8 L315.0,294.7 L314.0,294.5 L313.0,294.3 L312.0,294.1 L311.0,294.0 L310.0,293.9 L309.0,293.9 L308.0,294.1 L307.0,294.5 L306.0,295.1 L305.0,295.7 L304.0,296.4 L303.0,297.1 L302.0,297.8 L301.0,298.8 L300.0,300.0 L299.0,301.4 L298.0,302.9 L297.0,304.2 L296.0,305.4 L295.0,306.4 L294.0,307.1 L293.0,307.7 L292.0,308.3 L291.0,308.9 L290.0,309.5 L289.0,310.1 L288.0,310.7 L287.0,311.3 L286.0,311.8 L285.0,312.2 L284.0,312.4 L283.0,312.4 L282.0,312.2 L281.0,311.9 L280.0,311.4 L279.0,310.9 L278.0,310.3 L277.0,309.7 L276.0,309.1 L275.0,308.4 L274.0,307.7 L273.0,307.0 L272.0,306.2 L271.0,305.5 L270.0,304.8 L269.0,304.1 L268.0,303.4 L267.0,302.8 L266.0,302.2 L265.0,301.6 L264.0,301.0 L263.0,300.5 L262.0,300.0 L261.0,299.5 L260.0,299.1 L259.0,298.6 L258.0,298.1 L257.0,297.7 L256.0,297.4 L255.0,297.1 L254.0,296.8 L253.0,296.6 L252.0,296.4 L251.0,296.2 L250.0,296.0 L249.0,296.0 L248.0,296.0 L247.0,296.1 L246.0,296.3 L245.0,296.5 L244.0,296.7 L243.0,296.9 L242.0,297.1 L241.0,297.3 L240.0,297.5 L239.0,297.7 L238.0,297.9 L237.0,298.0 L236.0,298.1 L235.0,298.2 L234.0,298.3 L233.0,298.4 L232.0,298.4 L231.0,298.5 L230.0,298.5 L229.0,298.5 L228.0,298.5 L227.0,298.5 L226.0,298.5 L225.0,298.5 L224.0,298.4 L223.0,298.3 L222.0,298.2 L221.0,298.0 L220.0,297.9 L219.0,297.7 L218.0,297.6 L217.0,297.4 L216.0,297.2 L215.0,297.0 L214.0,296.8 L213.0,296.6 L212.0,296.3 L211.0,296.0 L210.0,295.7 L209.0,295.4 L208.0,295.1 L207.0,294.8 L206.0,294.4 L205.0,294.1 L204.0,293.7 Z" fill="#ff0000" fill-opacity="0.69"/>
<path d="M204.0,283.2 L205.0,283.4 L206.0,283.7 L207.0,283.9 L208.0,284.1 L209.0,284.3 L210.0,284.4 L211.0,284.6 L212.0,284.6 L213.0,284.6 L214.0,284.6 L215.0,284.5 L216.0,284.3 L217.0,284.1 L218.0,283.8 L219.0,283.6 L220.0,283.3 L221.0,283.1 L222.0,282.8 L223.0,282.6 L224.0,282.4 L225.0,282.3 L226.0,282.3 L227.0,282.3 L228.0,282.5 L229.0,282.6 L230.0,282.9 L231.0,283.2 L232.0,283.5 L233.0,283.8 L234.0,284.2 L235.0,284.6 L236.0,285.2 L237.0,286.0 L238.0,286.9 L239.0,287.7 L240.0,288.2 L241.0,288.5 L242.0,288.9 L243.0,289.1 L244.0,289.4 L245.0,289.7 L246.0,289.9 L247.0,290.2 L248.0,290.5 L249.0,290.8 L250.0,291.1 L251.0,291.4 L252.0,291.7 L253.0,292.0 L254.0,292.3 L255.0,292.6 L256.0,292.7 L257.0,292.8 L258.0,292.8 L259.0,292.9 L260.0,293.1 L261.0,293.4 L262.0,293.9 L263.0,294.5 L264.0,295.2 L265.0,295.9 L266.0,297.0 L267.0,298.2 L268.0,299.5 L269.0,300.8 L270.0,302.1 L271.0,303.3 L272.0,304.5 L273.0,305.7 L274.0,306.9 L275.0,308.1 L276.0,309.4 L277.0,310.7 L278.0,311.9 L279.0,313.0 L280.0,314.0 L281.0,314.9 L282.0,315.8 L283.0,316.5 L284.0,317.1 L285.0,317.6 L286.0,318.0 L287.0,318.4 L288.0,318.7 L289.0,318.9 L290.0,319.1 L291.0,319.2 L292.0,319.1 L293.0,318.8 L294.0,318.3 L295.0,317.8 L296.0,317.3 L297.0,316.7 L298.0,316.0 L299.0,315.0 L300.0,313.9 L301.0,312.7 L302.0,311.5 L303.0,310.2 L304.0,308.8 L305.0,307.3 L306.0,305.9 L307.0,304.5 L308.0,303.2 L309.0,301.9 L310.0,300.7 L311.0,299.6 L312.0,298.4 L313.0,297.2 L314.0,295.8 L315.0,294.2 L316.0,292.7 L317.0,291.5 L318.0,290.9 L319.0,290.9 L320.0,291.3 L321.0,292.2 L322.0,293.2 L323.0,294.5 L324.0,295.7 L325.0,297.0 L326.0,298.5 L327.0,300.1 L328.0,301.9 L329.0,303.6 L330.0,305.3 L331.0,306.9 L332.0,308.3 L333.0,309.7 L334.0,311.2 L335.0,312.7 L336.0,314.0 L337.0,315.3 L338.0,316.3 L339.0,317.0 L340.0,317.6 L341.0,318.1 L342.0,318.5 L343.0,318.8 L344.0,319.0 L345.0,319.0 L346.0,318.9 L347.0,318.8 L348.0,318.5 L349.0,318.2 L350.0,317.9 L351.0,317.5 L352.0,317.0 L353.0,316.3 L354.0,315.5 L355.0,314.6 L356.0,313.7 L357.0,312.6 L358.0,311.6 L359.0,310.6 L360.0,309.5 L361.0,308.2 L362.0,306.9 L363.0,305.3 L364.0,303.6 L365.0,301.4 L366.0,298.5 L367.0,295.2 L368.0,291.6 L369.0,288.1 L370.0,285.0 L371.0,282.6 L372.0,280.8 L373.0,279.3 L374.0,277.9 L375.0,276.7 L376.0,275.7 L377.0,275.0 L378.0,274.5 L379.0,273.9 L380.0,273.4 L381.0,272.9 L382.0,272.5 L383.0,272.2 L384.0,272.0 L385.0,272.0 L386.0,271.9 L387.0,271.9 L388.0,271.9 L389.0,272.0 L390.0,272.1 L391.0,272.2 L392.0,272.3 L393.0,272.5 L394.0,272.7 L395.0,272.9 L396.0,273.2 L397.0,273.5 L398.0,273.9 L399.0,274.3 L400.0,274.7 L401.0,275.1 L402.0,275.6 L403.0,276.0 L404.0,276.5 L405.0,277.0 L406.0,277.6 L407.0,278.1 L408.0,278.6 L408.7,279.0 L408.7,289.0 L408.0,288.5 L407.0,287.9 L406.0,287.2 L405.0,286.6 L404.0,285.9 L403.0,285.3 L402.0,284.7 L401.0,284.2 L400.0,283.6 L399.0,283.1 L398.0,282.6 L397.0,282.2 L396.0,281.8 L395.0,281.4 L394.0,281.1 L393.0,280.8 L392.0,280.6 L391.0,280.4 L390.0,280.3 L389.0,280.2 L388.0,280.1 L387.0,280.1 L386.0,280.1 L385.0,280.1 L384.0,280.2 L383.0,280.5 L382.0,280.9 L381.0,281.4 L380.0,282.0 L379.0,282.7 L378.0,283.4 L377.0,284.1 L376.0,285.0 L375.0,286.2 L374.0,287.5 L373.0,289.1 L372.0,290.8 L371.0,292.6 L370.0,294.8 L369.0,297.4 L368.0,300.3 L367.0,303.2 L366.0,306.0 L365.0,308.5 L364.0,310.6 L363.0,312.5 L362.0,314.3 L361.0,316.0 L360.0,317.6 L359.0,318.9 L358.0,319.9 L357.0,320.9 L356.0,321.9 L355.0,322.8 L354.0,323.7 L353.0,324.5 L352.0,325.1 L351.0,325.5 L350.0,325.8 L349.0,326.1 L348.0,326.3 L347.0,326.4 L346.0,326.5 L345.0,326.5 L344.0,326.4 L343.0,326.2 L342.0,325.9 L341.0,325.5 L340.0,325.0 L339.0,324.5 L338.0,323.9 L337.0,323.2 L336.0,322.3 L335.0,321.4 L334.0,320.3 L333.0,319.1 L332.0,317.9 L331.0,316.5 L330.0,314.8 L329.0,312.9 L328.0,310.9 L327.0,308.9 L326.0,307.1 L325.0,305.4 L324.0,304.1 L323.0,303.0 L322.0,302.0 L321.0,301.1 L320.0,300.5 L319.0,300.3 L318.0,300.4 L317.0,300.9 L316.0,301.8 L315.0,302.9 L314.0,304.2 L313.0,305.5 L312.0,306.8 L311.0,308.1 L310.0,309.5 L309.0,310.9 L308.0,312.3 L307.0,313.7 L306.0,315.3 L305.0,316.9 L304.0,318.5 L303.0,320.1 L302.0,321.5 L301.0,322.9 L300.0,324.3 L299.0,325.6 L298.0,326.8 L297.0,327.7 L296.0,328.2 L295.0,328.6 L294.0,328.9 L293.0,329.0 L292.0,329.0 L291.0,329.0 L290.0,328.9 L289.0,328.7 L288.0,328.4 L287.0,328.1 L286.0,327.7 L285.0,327.3 L284.0,326.9 L283.0,326.4 L282.0,325.7 L281.0,325.0 L280.0,324.1 L279.0,323.2 L278.0,322.2 L277.0,321.1 L276.0,319.9 L275.0,318.7 L274.0,317.5 L273.0,316.3 L272.0,315.0 L271.0,313.8 L270.0,312.5 L269.0,311.2 L268.0,309.9 L267.0,308.5 L266.0,307.3 L265.0,306.3 L264.0,305.5 L263.0,304.8 L262.0,304.3 L261.0,303.9 L260.0,303.6 L259.0,303.3 L258.0,303.0 L257.0,302.7 L256.0,302.4 L255.0,302.1 L254.0,301.8 L253.0,301.5 L252.0,301.2 L251.0,300.9 L250.0,300.6 L249.0,300.3 L248.0,300.0 L247.0,299.7 L246.0,299.4 L245.0,299.2 L244.0,298.9 L243.0,298.6 L242.0,298.4 L241.0,298.0 L240.0,297.7 L239.0,297.4 L238.0,297.0 L237.0,296.7 L236.0,296.4 L235.0,296.1 L234.0,295.7 L233.0,295.4 L232.0,295.1 L231.0,294.8 L230.0,294.6 L229.0,294.3 L228.0,294.2 L227.0,294.0 L226.0,294.0 L225.0,294.0 L224.0,294.1 L223.0,294.3 L222.0,294.4 L221.0,294.7 L220.0,294.9 L219.0,295.1 L218.0,295.4 L217.0,295.6 L216.0,295.8 L215.0,295.9 L214.0,296.0 L213.0,296.0 L212.0,295.9 L211.0,295.8 L210.0,295.6 L209.0,295.3 L208.0,295.0 L207.0,294.7 L206.0,294.4 L205.0,294.0 L204.0,293.7 Z" fill="#0000ff" fill-opacity="0.71"/>
<path d="M204.0,263.5 L205.0,263.3 L206.0,263.2 L207.0,263.4 L208.0,263.7 L209.0,264.5 L210.0,265.5 L211.0,266.6 L212.0,267.9 L213.0,269.6 L214.0,271.4 L215.0,273.5 L216.0,275.6 L217.0,278.1 L218.0,280.8 L219.0,283.4 L220.0,285.6 L221.0,287.7 L222.0,289.6 L223.0,291.3 L224.0,292.7 L225.0,293.9 L226.0,294.9 L227.0,295.5 L228.0,295.7 L229.0,295.8 L230.0,295.6 L231.0,295.3 L232.0,294.8 L233.0,294.3 L234.0,293.6 L235.0,293.0 L236.0,292.3 L237.0,291.7 L238.0,291.1 L239.0,290.5 L240.0,289.8 L241.0,289.2 L242.0,288.6 L243.0,288.1 L244.0,287.5 L245.0,286.9 L246.0,286.4 L247.0,286.0 L248.0,285.7 L249.0,285.6 L250.0,285.8 L251.0,286.2 L252.0,286.8 L253.0,287.4 L254.0,288.0 L255.0,288.7 L256.0,289.6 L257.0,290.5 L258.0,291.5 L259.0,292.5 L260.0,293.6 L261.0,294.8 L262.0,296.0 L263.0,297.2 L264.0,298.6 L265.0,299.9 L266.0,301.3 L267.0,302.7 L268.0,304.2 L269.0,305.6 L270.0,307.1 L271.0,308.6 L272.0,310.0 L273.0,311.5 L274.0,312.9 L275.0,314.1 L276.0,315.3 L277.0,316.4 L278.0,317.5 L279.0,318.5 L280.0,319.5 L281.0,320.4 L282.0,321.3 L283.0,322.2 L284.0,323.0 L285.0,323.7 L286.0,324.3 L287.0,324.9 L288.0,325.4 L289.0,325.9 L290.0,326.3 L291.0,326.5 L292.0,326.5 L293.0,326.4 L294.0,326.1 L295.0,325.7 L296.0,325.3 L297.0,324.7 L298.0,324.0 L299.0,323.0 L300.0,321.9 L301.0,320.7 L302.0,319.5 L303.0,318.2 L304.0,316.7 L305.0,315.0 L306.0,313.4 L307.0,311.8 L308.0,310.2 L309.0,308.6 L310.0,307.0 L311.0,305.5 L312.0,304.1 L313.0,303.0 L314.0,302.1 L315.0,301.4 L316.0,300.9 L317.0,300.6 L318.0,300.5 L319.0,300.5 L320.0,300.8 L321.0,301.2 L322.0,301.7 L323.0,302.4 L324.0,303.2 L325.0,304.2 L326.0,305.4 L327.0,306.8 L328.0,308.2 L329.0,309.8 L330.0,311.3 L331.0,312.8 L332.0,314.1 L333.0,315.4 L334.0,316.8 L335.0,318.1 L336.0,319.4 L337.0,320.6 L338.0,321.7 L339.0,322.5 L340.0,323.2 L341.0,323.7 L342.0,324.1 L343.0,324.5 L344.0,324.7 L345.0,324.9 L346.0,325.0 L347.0,325.0 L348.0,324.9 L349.0,324.6 L350.0,324.3 L351.0,323.9 L352.0,323.4 L353.0,322.9 L354.0,322.3 L355.0,321.6 L356.0,320.6 L357.0,319.4 L358.0,318.1 L359.0,316.7 L360.0,315.2 L361.0,313.7 L362.0,312.1 L363.0,310.2 L364.0,308.2 L365.0,306.0 L366.0,303.6 L367.0,300.9 L368.0,297.7 L369.0,294.3 L370.0,291.0 L371.0,287.8 L372.0,284.7 L373.0,282.0 L374.0,279.7 L375.0,277.7 L376.0,276.1 L377.0,274.7 L378.0,273.3 L379.0,272.1 L380.0,271.2 L381.0,270.7 L382.0,270.3 L383.0,269.9 L384.0,269.6 L385.0,269.3 L386.0,269.0 L387.0,268.9 L388.0,268.8 L389.0,268.8 L390.0,268.9 L391.0,269.0 L392.0,269.1 L393.0,269.2 L394.0,269.3 L395.0,269.4 L396.0,269.5 L397.0,269.6 L398.0,269.7 L399.0,269.7 L400.0,269.7 L401.0,269.7 L402.0,269.6 L403.0,269.5 L404.0,269.3 L405.0,269.2 L406.0,269.0 L407.0,268.8 L408.0,268.6 L408.7,268.5 L408.7,279.0 L408.0,278.8 L407.0,278.6 L406.0,278.4 L405.0,278.1 L404.0,277.9 L403.0,277.7 L402.0,277.6 L401.0,277.4 L400.0,277.3 L399.0,277.3 L398.0,277.3 L397.0,277.4 L396.0,277.4 L395.0,277.5 L394.0,277.6 L393.0,277.7 L392.0,277.8 L391.0,277.8 L390.0,277.9 L389.0,278.0 L388.0,278.1 L387.0,278.3 L386.0,278.6 L385.0,279.0 L384.0,279.4 L383.0,279.8 L382.0,280.3 L381.0,280.8 L380.0,281.5 L379.0,282.6 L378.0,283.9 L377.0,285.5 L376.0,287.0 L375.0,288.7 L374.0,290.7 L373.0,293.0 L372.0,295.7 L371.0,298.8 L370.0,302.0 L369.0,305.1 L368.0,308.3 L367.0,311.3 L366.0,314.0 L365.0,316.7 L364.0,319.4 L363.0,322.0 L362.0,324.2 L361.0,326.2 L360.0,327.8 L359.0,329.4 L358.0,330.9 L357.0,332.3 L356.0,333.5 L355.0,334.6 L354.0,335.3 L353.0,335.9 L352.0,336.4 L351.0,336.8 L350.0,337.1 L349.0,337.4 L348.0,337.6 L347.0,337.6 L346.0,337.4 L345.0,337.1 L344.0,336.6 L343.0,336.0 L342.0,335.2 L341.0,334.4 L340.0,333.6 L339.0,332.8 L338.0,331.9 L337.0,330.9 L336.0,329.7 L335.0,328.5 L334.0,327.1 L333.0,325.8 L332.0,324.4 L331.0,323.0 L330.0,321.5 L329.0,319.8 L328.0,318.2 L327.0,316.6 L326.0,315.1 L325.0,313.8 L324.0,312.7 L323.0,311.8 L322.0,310.9 L321.0,310.2 L320.0,309.7 L319.0,309.4 L318.0,309.3 L317.0,309.5 L316.0,310.2 L315.0,311.2 L314.0,312.5 L313.0,313.7 L312.0,315.1 L311.0,316.6 L310.0,318.4 L309.0,320.1 L308.0,321.7 L307.0,323.2 L306.0,324.7 L305.0,326.2 L304.0,327.6 L303.0,328.9 L302.0,330.2 L301.0,331.4 L300.0,332.6 L299.0,333.7 L298.0,334.6 L297.0,335.4 L296.0,336.0 L295.0,336.5 L294.0,336.9 L293.0,337.3 L292.0,337.4 L291.0,337.4 L290.0,337.2 L289.0,336.8 L288.0,336.2 L287.0,335.6 L286.0,334.9 L285.0,334.2 L284.0,333.4 L283.0,332.5 L282.0,331.5 L281.0,330.5 L280.0,329.5 L279.0,328.5 L278.0,327.4 L277.0,326.2 L276.0,325.0 L275.0,323.7 L274.0,322.3 L273.0,320.7 L272.0,319.1 L271.0,317.4 L270.0,315.7 L269.0,314.0 L268.0,312.3 L267.0,310.6 L266.0,308.9 L265.0,307.4 L264.0,306.1 L263.0,304.7 L262.0,303.5 L261.0,302.3 L260.0,301.1 L259.0,300.0 L258.0,299.0 L257.0,298.0 L256.0,297.1 L255.0,296.2 L254.0,295.5 L253.0,294.9 L252.0,294.4 L251.0,293.9 L250.0,293.6 L249.0,293.5 L248.0,293.6 L247.0,293.8 L246.0,294.1 L245.0,294.5 L244.0,294.9 L243.0,295.3 L242.0,295.8 L241.0,296.3 L240.0,296.8 L239.0,297.3 L238.0,297.8 L237.0,298.4 L236.0,299.0 L235.0,299.8 L234.0,300.5 L233.0,301.3 L232.0,302.0 L231.0,302.5 L230.0,302.8 L229.0,302.9 L228.0,302.7 L227.0,302.5 L226.0,302.0 L225.0,301.1 L224.0,300.1 L223.0,298.9 L222.0,297.5 L221.0,295.8 L220.0,294.0 L219.0,292.0 L218.0,289.6 L217.0,287.1 L216.0,284.6 L215.0,282.4 L214.0,280.3 L213.0,278.3 L212.0,276.5 L211.0,275.1 L210.0,273.8 L209.0,272.6 L208.0,271.8 L207.0,271.3 L206.0,271.1 L205.0,271.2 L204.0,271.5 Z" fill="#000000" fill-opacity="0.65"/>
</g>
<circle cx="212" cy="361" r="4" fill="#3a14f5"/>
<circle cx="212" cy="369.1" r="4" fill="#ff0d0d"/>
<path d="M253.80,364.80 L258.30,372.80 L249.30,372.80 Z" fill="#ff0d0d"/>
<rect x="293.70" y="365.10" width="8.2" height="7.8" fill="#ff0d0d"/>
<path d="M309.50,364.80 L314.00,372.80 L305.00,372.80 Z" fill="#ff2a00"/>
<rect x="349.90" y="365.10" width="8.2" height="7.8" fill="#ff2a00"/>
<rect x="204.0" y="240.0" width="204.70" height="136.10" fill="none" stroke="#4a4a4a" stroke-width="1.25"/>
<line x1="204.00" y1="376.1" x2="204.00" y2="373.5" stroke="#4a4a4a" stroke-width="1"/>
<line x1="204.00" y1="240.0" x2="204.00" y2="242.6" stroke="#4a4a4a" stroke-width="1"/>
<text x="204.00" y="385.30" font-family="Liberation Sans" font-weight="bold" font-size="9.5" text-anchor="middle" fill="#111">0</text>
<line x1="232.43" y1="376.1" x2="232.43" y2="373.5" stroke="#4a4a4a" stroke-width="1"/>
<line x1="232.43" y1="240.0" x2="232.43" y2="242.6" stroke="#4a4a4a" stroke-width="1"/>
<text x="232.43" y="385.30" font-family="Liberation Sans" font-weight="bold" font-size="9.5" text-anchor="middle" fill="#111">5</text>
<line x1="260.86" y1="376.1" x2="260.86" y2="373.5" stroke="#4a4a4a" stroke-width="1"/>
<line x1="260.86" y1="240.0" x2="260.86" y2="242.6" stroke="#4a4a4a" stroke-width="1"/>
<text x="260.86" y="385.30" font-family="Liberation Sans" font-weight="bold" font-size="9.5" text-anchor="middle" fill="#111">10</text>
<line x1="289.29" y1="376.1" x2="289.29" y2="373.5" stroke="#4a4a4a" stroke-width="1"/>
<line x1="289.29" y1="240.0" x2="289.29" y2="242.6" stroke="#4a4a4a" stroke-width="1"/>
<text x="289.29" y="385.30" font-family="Liberation Sans" font-weight="bold" font-size="9.5" text-anchor="middle" fill="#111">15</text>
<line x1="317.72" y1="376.1" x2="317.72" y2="373.5" stroke="#4a4a4a" stroke-width="1"/>
<line x1="317.72" y1="240.0" x2="317.72" y2="242.6" stroke="#4a4a4a" stroke-width="1"/>
<text x="317.72" y="385.30" font-family="Liberation Sans" font-weight="bold" font-size="9.5" text-anchor="middle" fill="#111">20</text>
<line x1="346.15" y1="376.1" x2="346.15" y2="373.5" stroke="#4a4a4a" stroke-width="1"/>
<line x1="346.15" y1="240.0" x2="346.15" y2="242.6" stroke="#4a4a4a" stroke-width="1"/>
<text x="346.15" y="385.30" font-family="Liberation Sans" font-weight="bold" font-size="9.5" text-anchor="middle" fill="#111">25</text>
<line x1="374.58" y1="376.1" x2="374.58" y2="373.5" stroke="#4a4a4a" stroke-width="1"/>
<line x1="374.58" y1="240.0" x2="374.58" y2="242.6" stroke="#4a4a4a" stroke-width="1"/>
<text x="374.58" y="385.30" font-family="Liberation Sans" font-weight="bold" font-size="9.5" text-anchor="middle" fill="#111">30</text>
<line x1="403.01" y1="376.1" x2="403.01" y2="373.5" stroke="#4a4a4a" stroke-width="1"/>
<line x1="403.01" y1="240.0" x2="403.01" y2="242.6" stroke="#4a4a4a" stroke-width="1"/>
<text x="403.01" y="385.30" font-family="Liberation Sans" font-weight="bold" font-size="9.5" text-anchor="middle" fill="#111">35</text>
<line x1="204.0" y1="376.10" x2="206.6" y2="376.10" stroke="#4a4a4a" stroke-width="1"/>
<line x1="408.7" y1="376.10" x2="406.09999999999997" y2="376.10" stroke="#4a4a4a" stroke-width="1"/>
<line x1="204.0" y1="356.66" x2="206.6" y2="356.66" stroke="#4a4a4a" stroke-width="1"/>
<line x1="408.7" y1="356.66" x2="406.09999999999997" y2="356.66" stroke="#4a4a4a" stroke-width="1"/>
<line x1="204.0" y1="337.21" x2="206.6" y2="337.21" stroke="#4a4a4a" stroke-width="1"/>
<line x1="408.7" y1="337.21" x2="406.09999999999997" y2="337.21" stroke="#4a4a4a" stroke-width="1"/>
<line x1="204.0" y1="317.77" x2="206.6" y2="317.77" stroke="#4a4a4a" stroke-width="1"/>
<line x1="408.7" y1="317.77" x2="406.09999999999997" y2="317.77" stroke="#4a4a4a" stroke-width="1"/>
<line x1="204.0" y1="298.33" x2="206.6" y2="298.33" stroke="#4a4a4a" stroke-width="1"/>
<line x1="408.7" y1="298.33" x2="406.09999999999997" y2="298.33" stroke="#4a4a4a" stroke-width="1"/>
<line x1="204.0" y1="278.89" x2="206.6" y2="278.89" stroke="#4a4a4a" stroke-width="1"/>
<line x1="408.7" y1="278.89" x2="406.09999999999997" y2="278.89" stroke="#4a4a4a" stroke-width="1"/>
<line x1="204.0" y1="259.44" x2="206.6" y2="259.44" stroke="#4a4a4a" stroke-width="1"/>
<line x1="408.7" y1="259.44" x2="406.09999999999997" y2="259.44" stroke="#4a4a4a" stroke-width="1"/>
<text x="201.70" y="358.01" font-family="Liberation Sans" font-weight="bold" font-size="9.5" text-anchor="end" fill="#111">0.2</text>
<text x="201.70" y="320.20" font-family="Liberation Sans" font-weight="bold" font-size="9.5" text-anchor="end" fill="#111">0.4</text>
<text x="201.70" y="282.39" font-family="Liberation Sans" font-weight="bold" font-size="9.5" text-anchor="end" fill="#111">0.6</text>
<text x="201.70" y="244.59" font-family="Liberation Sans" font-weight="bold" font-size="9.5" text-anchor="end" fill="#111">0.8</text>
<clipPath id="clipBR"><rect x="417.6" y="240.0" width="204.90" height="136.10"/></clipPath>
<g clip-path="url(#clipBR)">
<path d="M417.6,285.5 L418.6,285.5 L419.6,285.6 L420.6,285.6 L421.6,285.7 L422.6,285.8 L423.6,285.8 L424.6,285.9 L425.6,286.0 L426.6,286.1 L427.6,286.3 L428.6,286.4 L429.6,286.6 L430.6,286.8 L431.6,287.0 L432.6,287.3 L433.6,287.6 L434.6,287.8 L435.6,288.1 L436.6,288.3 L437.6,288.6 L438.6,288.8 L439.6,288.9 L440.6,289.1 L441.6,289.2 L442.6,289.3 L443.6,289.4 L444.6,289.5 L445.6,289.6 L446.6,289.6 L447.6,289.6 L448.6,289.6 L449.6,289.5 L450.6,289.4 L451.6,289.3 L452.6,289.2 L453.6,289.0 L454.6,288.9 L455.6,288.7 L456.6,288.5 L457.6,288.3 L458.6,288.1 L459.6,288.0 L460.6,287.8 L461.6,287.6 L462.6,287.5 L463.6,287.4 L464.6,287.3 L465.6,287.2 L466.6,287.2 L467.6,287.2 L468.6,287.2 L469.6,287.2 L470.6,287.2 L471.6,287.3 L472.6,287.4 L473.6,287.5 L474.6,287.6 L475.6,287.7 L476.6,287.8 L477.6,287.9 L478.6,288.0 L479.6,288.2 L480.6,288.4 L481.6,288.6 L482.6,288.9 L483.6,289.3 L484.6,289.7 L485.6,290.2 L486.6,290.9 L487.6,291.6 L488.6,292.4 L489.6,293.3 L490.6,294.1 L491.6,294.9 L492.6,295.7 L493.6,296.5 L494.6,297.3 L495.6,298.1 L496.6,298.8 L497.6,299.4 L498.6,299.8 L499.6,300.0 L500.6,299.9 L501.6,299.7 L502.6,299.4 L503.6,298.9 L504.6,298.4 L505.6,297.8 L506.6,297.1 L507.6,296.4 L508.6,295.7 L509.6,294.9 L510.6,293.9 L511.6,292.9 L512.6,291.7 L513.6,290.7 L514.6,289.8 L515.6,289.1 L516.6,288.4 L517.6,287.9 L518.6,287.3 L519.6,286.8 L520.6,286.3 L521.6,285.8 L522.6,285.4 L523.6,285.0 L524.6,284.7 L525.6,284.5 L526.6,284.4 L527.6,284.7 L528.6,285.3 L529.6,286.0 L530.6,286.9 L531.6,288.1 L532.6,289.6 L533.6,291.3 L534.6,293.0 L535.6,294.9 L536.6,296.9 L537.6,299.1 L538.6,301.2 L539.6,303.2 L540.6,305.2 L541.6,307.2 L542.6,309.2 L543.6,311.0 L544.6,312.7 L545.6,314.3 L546.6,315.8 L547.6,317.3 L548.6,318.7 L549.6,320.0 L550.6,321.2 L551.6,322.5 L552.6,323.6 L553.6,324.7 L554.6,325.6 L555.6,326.5 L556.6,327.2 L557.6,327.9 L558.6,328.4 L559.6,328.8 L560.6,329.2 L561.6,329.4 L562.6,329.3 L563.6,329.1 L564.6,328.7 L565.6,328.0 L566.6,327.1 L567.6,325.9 L568.6,324.7 L569.6,323.4 L570.6,322.1 L571.6,320.6 L572.6,319.0 L573.6,317.2 L574.6,315.3 L575.6,313.2 L576.6,310.8 L577.6,307.8 L578.6,304.6 L579.6,301.6 L580.6,298.9 L581.6,296.2 L582.6,293.6 L583.6,291.1 L584.6,288.8 L585.6,286.8 L586.6,284.9 L587.6,283.0 L588.6,281.2 L589.6,279.7 L590.6,278.5 L591.6,277.6 L592.6,277.1 L593.6,276.6 L594.6,276.1 L595.6,275.7 L596.6,275.4 L597.6,275.1 L598.6,275.0 L599.6,275.0 L600.6,275.2 L601.6,275.4 L602.6,275.7 L603.6,275.9 L604.6,276.2 L605.6,276.5 L606.6,276.8 L607.6,277.1 L608.6,277.5 L609.6,277.8 L610.6,278.2 L611.6,278.6 L612.6,279.1 L613.6,279.5 L614.6,279.9 L615.6,280.3 L616.6,280.6 L617.6,280.9 L618.6,280.9 L619.6,280.6 L620.6,280.0 L621.6,279.3 L622.5,278.6 L622.5,287.0 L621.6,287.0 L620.6,287.0 L619.6,287.1 L618.6,287.0 L617.6,287.0 L616.6,286.9 L615.6,286.8 L614.6,286.7 L613.6,286.6 L612.6,286.5 L611.6,286.4 L610.6,286.3 L609.6,286.2 L608.6,286.0 L607.6,285.9 L606.6,285.8 L605.6,285.6 L604.6,285.5 L603.6,285.4 L602.6,285.2 L601.6,285.1 L600.6,285.0 L599.6,285.0 L598.6,285.1 L597.6,285.3 L596.6,285.7 L595.6,286.2 L594.6,286.7 L593.6,287.2 L592.6,287.7 L591.6,288.2 L590.6,289.0 L589.6,289.9 L588.6,291.2 L587.6,292.6 L586.6,294.2 L585.6,295.9 L584.6,297.8 L583.6,300.3 L582.6,303.1 L581.6,306.2 L580.6,309.2 L579.6,311.8 L578.6,314.4 L577.6,316.8 L576.6,319.1 L575.6,321.3 L574.6,323.4 L573.6,325.4 L572.6,327.2 L571.6,328.9 L570.6,330.4 L569.6,331.7 L568.6,332.9 L567.6,334.2 L566.6,335.3 L565.6,336.2 L564.6,336.9 L563.6,337.3 L562.6,337.5 L561.6,337.6 L560.6,337.4 L559.6,337.0 L558.6,336.4 L557.6,335.5 L556.6,334.5 L555.6,333.6 L554.6,332.6 L553.6,331.7 L552.6,330.7 L551.6,329.6 L550.6,328.5 L549.6,327.3 L548.6,326.2 L547.6,324.9 L546.6,323.6 L545.6,322.2 L544.6,320.7 L543.6,319.2 L542.6,317.5 L541.6,315.7 L540.6,313.8 L539.6,311.9 L538.6,310.1 L537.6,308.5 L536.6,307.0 L535.6,305.4 L534.6,303.8 L533.6,302.0 L532.6,300.2 L531.6,298.5 L530.6,297.2 L529.6,296.5 L528.6,295.9 L527.6,295.5 L526.6,295.4 L525.6,295.6 L524.6,296.0 L523.6,296.5 L522.6,297.0 L521.6,297.6 L520.6,298.2 L519.6,298.7 L518.6,299.2 L517.6,299.8 L516.6,300.4 L515.6,301.1 L514.6,301.8 L513.6,302.7 L512.6,303.8 L511.6,305.0 L510.6,306.1 L509.6,307.1 L508.6,307.9 L507.6,308.6 L506.6,309.3 L505.6,309.9 L504.6,310.4 L503.6,310.8 L502.6,311.2 L501.6,311.4 L500.6,311.6 L499.6,311.6 L498.6,311.4 L497.6,311.1 L496.6,310.7 L495.6,310.2 L494.6,309.6 L493.6,309.0 L492.6,308.4 L491.6,307.7 L490.6,307.0 L489.6,306.1 L488.6,305.2 L487.6,304.2 L486.6,303.3 L485.6,302.5 L484.6,301.7 L483.6,300.8 L482.6,299.9 L481.6,299.0 L480.6,298.1 L479.6,297.4 L478.6,296.8 L477.6,296.5 L476.6,296.4 L475.6,296.3 L474.6,296.2 L473.6,296.1 L472.6,296.1 L471.6,296.1 L470.6,296.0 L469.6,296.0 L468.6,296.1 L467.6,296.1 L466.6,296.2 L465.6,296.3 L464.6,296.4 L463.6,296.5 L462.6,296.6 L461.6,296.8 L460.6,297.0 L459.6,297.2 L458.6,297.4 L457.6,297.6 L456.6,297.8 L455.6,298.0 L454.6,298.2 L453.6,298.4 L452.6,298.6 L451.6,298.7 L450.6,298.9 L449.6,299.1 L448.6,299.2 L447.6,299.4 L446.6,299.7 L445.6,299.9 L444.6,300.1 L443.6,300.2 L442.6,300.4 L441.6,300.5 L440.6,300.5 L439.6,300.5 L438.6,300.4 L437.6,300.2 L436.6,300.0 L435.6,299.7 L434.6,299.4 L433.6,299.0 L432.6,298.7 L431.6,298.3 L430.6,298.0 L429.6,297.7 L428.6,297.4 L427.6,297.1 L426.6,296.8 L425.6,296.4 L424.6,296.1 L423.6,295.7 L422.6,295.4 L421.6,295.0 L420.6,294.6 L419.6,294.2 L418.6,293.9 L417.6,293.5 Z" fill="#ff0000" fill-opacity="0.69"/>
<path d="M417.6,275.1 L418.6,275.3 L419.6,275.5 L420.6,275.7 L421.6,276.0 L422.6,276.2 L423.6,276.4 L424.6,276.6 L425.6,276.8 L426.6,277.0 L427.6,277.2 L428.6,277.4 L429.6,277.6 L430.6,277.8 L431.6,278.0 L432.6,278.2 L433.6,278.3 L434.6,278.5 L435.6,278.7 L436.6,278.9 L437.6,279.1 L438.6,279.3 L439.6,279.5 L440.6,279.8 L441.6,280.0 L442.6,280.3 L443.6,280.5 L444.6,280.8 L445.6,281.1 L446.6,281.4 L447.6,281.7 L448.6,282.0 L449.6,282.4 L450.6,282.7 L451.6,283.1 L452.6,283.4 L453.6,283.8 L454.6,284.3 L455.6,284.8 L456.6,285.3 L457.6,285.9 L458.6,286.4 L459.6,287.0 L460.6,287.5 L461.6,288.1 L462.6,288.6 L463.6,289.0 L464.6,289.5 L465.6,289.9 L466.6,290.3 L467.6,290.6 L468.6,291.0 L469.6,291.4 L470.6,291.9 L471.6,292.3 L472.6,292.9 L473.6,293.5 L474.6,294.3 L475.6,295.1 L476.6,296.1 L477.6,297.1 L478.6,298.2 L479.6,299.3 L480.6,300.4 L481.6,301.6 L482.6,303.0 L483.6,304.5 L484.6,306.1 L485.6,307.6 L486.6,308.9 L487.6,310.0 L488.6,310.9 L489.6,311.7 L490.6,312.4 L491.6,313.1 L492.6,313.9 L493.6,314.6 L494.6,315.5 L495.6,316.3 L496.6,317.1 L497.6,317.9 L498.6,318.7 L499.6,319.4 L500.6,320.1 L501.6,320.9 L502.6,321.5 L503.6,322.2 L504.6,322.7 L505.6,323.2 L506.6,323.5 L507.6,323.7 L508.6,323.5 L509.6,323.1 L510.6,322.5 L511.6,321.9 L512.6,321.1 L513.6,320.1 L514.6,318.9 L515.6,317.6 L516.6,316.2 L517.6,314.7 L518.6,313.1 L519.6,311.4 L520.6,309.5 L521.6,307.7 L522.6,305.8 L523.6,303.9 L524.6,302.2 L525.6,300.5 L526.6,298.8 L527.6,297.1 L528.6,295.4 L529.6,293.1 L530.6,290.5 L531.6,288.9 L532.6,288.4 L533.6,287.9 L534.6,287.5 L535.6,287.2 L536.6,286.9 L537.6,286.8 L538.6,286.7 L539.6,286.7 L540.6,286.6 L541.6,286.5 L542.6,286.5 L543.6,286.5 L544.6,286.4 L545.6,286.4 L546.6,286.4 L547.6,286.4 L548.6,286.3 L549.6,286.3 L550.6,286.2 L551.6,286.2 L552.6,286.1 L553.6,286.1 L554.6,286.0 L555.6,286.0 L556.6,285.9 L557.6,285.8 L558.6,285.6 L559.6,285.5 L560.6,285.4 L561.6,285.3 L562.6,285.2 L563.6,285.1 L564.6,285.1 L565.6,285.0 L566.6,285.0 L567.6,284.9 L568.6,284.9 L569.6,284.8 L570.6,284.8 L571.6,284.8 L572.6,284.8 L573.6,284.7 L574.6,284.7 L575.6,284.6 L576.6,284.6 L577.6,284.6 L578.6,284.5 L579.6,284.4 L580.6,284.4 L581.6,284.3 L582.6,284.2 L583.6,284.1 L584.6,284.0 L585.6,283.9 L586.6,283.8 L587.6,283.8 L588.6,283.7 L589.6,283.6 L590.6,283.5 L591.6,283.4 L592.6,283.2 L593.6,283.1 L594.6,283.0 L595.6,282.9 L596.6,282.8 L597.6,282.7 L598.6,282.7 L599.6,282.6 L600.6,282.6 L601.6,282.6 L602.6,282.6 L603.6,282.7 L604.6,282.8 L605.6,282.9 L606.6,283.0 L607.6,283.2 L608.6,283.3 L609.6,283.4 L610.6,283.6 L611.6,283.7 L612.6,283.8 L613.6,284.0 L614.6,284.1 L615.6,284.3 L616.6,284.4 L617.6,284.6 L618.6,284.8 L619.6,285.0 L620.6,285.1 L621.6,285.3 L622.5,285.5 L622.5,293.7 L621.6,293.5 L620.6,293.2 L619.6,292.9 L618.6,292.7 L617.6,292.4 L616.6,292.2 L615.6,292.0 L614.6,291.8 L613.6,291.6 L612.6,291.5 L611.6,291.4 L610.6,291.3 L609.6,291.2 L608.6,291.2 L607.6,291.1 L606.6,291.0 L605.6,291.0 L604.6,291.0 L603.6,290.9 L602.6,290.9 L601.6,290.9 L600.6,291.0 L599.6,291.0 L598.6,291.1 L597.6,291.1 L596.6,291.2 L595.6,291.3 L594.6,291.4 L593.6,291.5 L592.6,291.6 L591.6,291.7 L590.6,291.8 L589.6,291.9 L588.6,292.0 L587.6,292.0 L586.6,292.1 L585.6,292.2 L584.6,292.2 L583.6,292.3 L582.6,292.3 L581.6,292.4 L580.6,292.5 L579.6,292.5 L578.6,292.6 L577.6,292.6 L576.6,292.7 L575.6,292.7 L574.6,292.8 L573.6,292.8 L572.6,292.9 L571.6,292.9 L570.6,293.0 L569.6,293.0 L568.6,293.1 L567.6,293.2 L566.6,293.2 L565.6,293.3 L564.6,293.4 L563.6,293.5 L562.6,293.7 L561.6,293.9 L560.6,294.1 L559.6,294.4 L558.6,294.6 L557.6,294.9 L556.6,295.1 L555.6,295.4 L554.6,295.6 L553.6,295.8 L552.6,296.0 L551.6,296.1 L550.6,296.3 L549.6,296.5 L548.6,296.6 L547.6,296.7 L546.6,296.8 L545.6,296.8 L544.6,296.9 L543.6,296.9 L542.6,296.9 L541.6,297.0 L540.6,297.0 L539.6,297.0 L538.6,297.0 L537.6,297.0 L536.6,297.0 L535.6,297.0 L534.6,297.0 L533.6,297.1 L532.6,297.3 L531.6,297.7 L530.6,299.4 L529.6,302.1 L528.6,304.4 L527.6,306.0 L526.6,307.5 L525.6,308.9 L524.6,310.4 L523.6,312.0 L522.6,313.7 L521.6,315.6 L520.6,317.4 L519.6,319.3 L518.6,321.1 L517.6,322.8 L516.6,324.7 L515.6,326.7 L514.6,328.6 L513.6,330.4 L512.6,332.0 L511.6,333.1 L510.6,334.0 L509.6,334.8 L508.6,335.4 L507.6,335.6 L506.6,335.4 L505.6,335.0 L504.6,334.4 L503.6,333.8 L502.6,333.0 L501.6,332.2 L500.6,331.4 L499.6,330.7 L498.6,329.9 L497.6,329.1 L496.6,328.3 L495.6,327.5 L494.6,326.6 L493.6,325.8 L492.6,324.9 L491.6,323.9 L490.6,322.9 L489.6,321.9 L488.6,320.8 L487.6,319.7 L486.6,318.6 L485.6,317.3 L484.6,315.9 L483.6,314.4 L482.6,313.0 L481.6,311.6 L480.6,310.4 L479.6,309.2 L478.6,308.0 L477.6,306.8 L476.6,305.6 L475.6,304.5 L474.6,303.5 L473.6,302.6 L472.6,301.9 L471.6,301.1 L470.6,300.4 L469.6,299.7 L468.6,299.0 L467.6,298.3 L466.6,297.7 L465.6,297.1 L464.6,296.5 L463.6,296.0 L462.6,295.6 L461.6,295.2 L460.6,294.8 L459.6,294.4 L458.6,294.0 L457.6,293.6 L456.6,293.3 L455.6,293.0 L454.6,292.7 L453.6,292.4 L452.6,292.1 L451.6,291.9 L450.6,291.7 L449.6,291.5 L448.6,291.3 L447.6,291.2 L446.6,291.0 L445.6,290.9 L444.6,290.7 L443.6,290.6 L442.6,290.4 L441.6,290.2 L440.6,290.1 L439.6,289.9 L438.6,289.7 L437.6,289.5 L436.6,289.3 L435.6,289.1 L434.6,288.9 L433.6,288.6 L432.6,288.4 L431.6,288.2 L430.6,288.0 L429.6,287.7 L428.6,287.5 L427.6,287.2 L426.6,287.0 L425.6,286.7 L424.6,286.5 L423.6,286.2 L422.6,285.9 L421.6,285.6 L420.6,285.3 L419.6,285.0 L418.6,284.7 L417.6,284.4 Z" fill="#0000ff" fill-opacity="0.71"/>
<path d="M417.6,273.9 L418.6,274.1 L419.6,274.4 L420.6,274.8 L421.6,275.4 L422.6,276.0 L423.6,276.7 L424.6,277.5 L425.6,278.4 L426.6,279.5 L427.6,280.7 L428.6,282.0 L429.6,283.2 L430.6,284.5 L431.6,285.8 L432.6,287.3 L433.6,288.9 L434.6,290.6 L435.6,292.2 L436.6,293.5 L437.6,294.6 L438.6,295.3 L439.6,295.9 L440.6,296.5 L441.6,296.9 L442.6,297.2 L443.6,297.3 L444.6,297.3 L445.6,297.0 L446.6,296.7 L447.6,296.3 L448.6,295.9 L449.6,295.5 L450.6,295.1 L451.6,294.6 L452.6,294.2 L453.6,293.9 L454.6,293.6 L455.6,293.3 L456.6,293.0 L457.6,292.7 L458.6,292.4 L459.6,292.1 L460.6,291.9 L461.6,291.7 L462.6,291.5 L463.6,291.4 L464.6,291.4 L465.6,291.6 L466.6,292.0 L467.6,292.5 L468.6,293.1 L469.6,293.7 L470.6,294.4 L471.6,295.2 L472.6,295.9 L473.6,296.6 L474.6,297.4 L475.6,298.2 L476.6,299.2 L477.6,300.2 L478.6,301.2 L479.6,302.3 L480.6,303.4 L481.6,304.6 L482.6,305.9 L483.6,307.4 L484.6,308.9 L485.6,310.4 L486.6,311.7 L487.6,313.0 L488.6,314.1 L489.6,315.3 L490.6,316.3 L491.6,317.4 L492.6,318.3 L493.6,319.3 L494.6,320.2 L495.6,321.1 L496.6,321.9 L497.6,322.7 L498.6,323.4 L499.6,324.1 L500.6,324.8 L501.6,325.4 L502.6,326.1 L503.6,326.6 L504.6,327.2 L505.6,327.6 L506.6,327.9 L507.6,328.1 L508.6,328.1 L509.6,327.9 L510.6,327.5 L511.6,327.1 L512.6,326.4 L513.6,325.3 L514.6,323.9 L515.6,322.4 L516.6,320.8 L517.6,319.3 L518.6,317.8 L519.6,316.1 L520.6,314.3 L521.6,312.4 L522.6,310.6 L523.6,309.0 L524.6,307.4 L525.6,305.7 L526.6,304.1 L527.6,302.5 L528.6,301.1 L529.6,300.0 L530.6,299.3 L531.6,299.0 L532.6,299.2 L533.6,299.7 L534.6,300.5 L535.6,301.5 L536.6,302.5 L537.6,303.7 L538.6,304.9 L539.6,306.2 L540.6,307.5 L541.6,308.8 L542.6,310.0 L543.6,311.2 L544.6,312.4 L545.6,313.6 L546.6,314.7 L547.6,315.8 L548.6,316.8 L549.6,317.7 L550.6,318.5 L551.6,319.3 L552.6,320.0 L553.6,320.8 L554.6,321.4 L555.6,322.0 L556.6,322.5 L557.6,322.9 L558.6,323.2 L559.6,323.5 L560.6,323.7 L561.6,323.8 L562.6,323.9 L563.6,324.0 L564.6,324.0 L565.6,323.7 L566.6,323.3 L567.6,322.7 L568.6,322.0 L569.6,321.3 L570.6,320.5 L571.6,319.4 L572.6,318.0 L573.6,316.3 L574.6,314.5 L575.6,312.5 L576.6,310.2 L577.6,307.3 L578.6,304.3 L579.6,301.2 L580.6,298.2 L581.6,295.2 L582.6,292.2 L583.6,289.2 L584.6,286.3 L585.6,283.6 L586.6,281.0 L587.6,278.5 L588.6,276.1 L589.6,274.1 L590.6,272.5 L591.6,271.1 L592.6,269.8 L593.6,268.7 L594.6,267.6 L595.6,266.8 L596.6,266.3 L597.6,266.1 L598.6,266.1 L599.6,266.1 L600.6,266.1 L601.6,266.1 L602.6,266.2 L603.6,266.3 L604.6,266.5 L605.6,266.7 L606.6,266.9 L607.6,267.2 L608.6,267.5 L609.6,267.8 L610.6,268.1 L611.6,268.3 L612.6,268.6 L613.6,268.8 L614.6,269.0 L615.6,269.2 L616.6,269.2 L617.6,269.3 L618.6,269.3 L619.6,269.3 L620.6,269.2 L621.6,269.2 L622.5,269.1 L622.5,278.5 L621.6,278.8 L620.6,279.1 L619.6,279.3 L618.6,279.5 L617.6,279.7 L616.6,279.7 L615.6,279.7 L614.6,279.5 L613.6,279.3 L612.6,278.9 L611.6,278.6 L610.6,278.2 L609.6,277.8 L608.6,277.4 L607.6,277.0 L606.6,276.7 L605.6,276.5 L604.6,276.2 L603.6,276.1 L602.6,276.0 L601.6,275.9 L600.6,275.9 L599.6,275.9 L598.6,275.9 L597.6,276.0 L596.6,276.3 L595.6,276.9 L594.6,277.7 L593.6,278.8 L592.6,280.1 L591.6,281.4 L590.6,282.9 L589.6,284.5 L588.6,286.7 L587.6,289.3 L586.6,291.9 L585.6,294.5 L584.6,297.1 L583.6,299.6 L582.6,302.2 L581.6,304.9 L580.6,307.5 L579.6,310.0 L578.6,312.8 L577.6,315.5 L576.6,318.0 L575.6,320.2 L574.6,322.2 L573.6,324.0 L572.6,325.7 L571.6,327.2 L570.6,328.4 L569.6,329.4 L568.6,330.2 L567.6,331.0 L566.6,331.8 L565.6,332.4 L564.6,332.7 L563.6,332.8 L562.6,332.8 L561.6,332.7 L560.6,332.5 L559.6,332.2 L558.6,331.9 L557.6,331.6 L556.6,331.3 L555.6,330.9 L554.6,330.4 L553.6,329.8 L552.6,329.2 L551.6,328.5 L550.6,327.8 L549.6,327.1 L548.6,326.4 L547.6,325.5 L546.6,324.6 L545.6,323.6 L544.6,322.5 L543.6,321.4 L542.6,320.3 L541.6,319.1 L540.6,317.7 L539.6,316.0 L538.6,314.4 L537.6,312.8 L536.6,311.4 L535.6,310.3 L534.6,309.3 L533.6,308.5 L532.6,308.0 L531.6,307.8 L530.6,308.1 L529.6,308.8 L528.6,309.9 L527.6,311.2 L526.6,312.7 L525.6,314.3 L524.6,315.9 L523.6,317.5 L522.6,319.1 L521.6,320.8 L520.6,322.6 L519.6,324.3 L518.6,325.9 L517.6,327.3 L516.6,328.5 L515.6,329.7 L514.6,330.8 L513.6,331.7 L512.6,332.5 L511.6,333.0 L510.6,333.5 L509.6,333.8 L508.6,334.0 L507.6,334.1 L506.6,334.0 L505.6,333.7 L504.6,333.3 L503.6,332.9 L502.6,332.4 L501.6,331.8 L500.6,331.2 L499.6,330.6 L498.6,330.0 L497.6,329.2 L496.6,328.4 L495.6,327.6 L494.6,326.7 L493.6,325.8 L492.6,324.9 L491.6,324.0 L490.6,323.0 L489.6,322.0 L488.6,321.0 L487.6,319.9 L486.6,318.8 L485.6,317.6 L484.6,316.4 L483.6,315.1 L482.6,313.8 L481.6,312.6 L480.6,311.4 L479.6,310.2 L478.6,309.0 L477.6,307.8 L476.6,306.6 L475.6,305.5 L474.6,304.5 L473.6,303.6 L472.6,302.9 L471.6,302.1 L470.6,301.4 L469.6,300.7 L468.6,300.0 L467.6,299.4 L466.6,298.9 L465.6,298.5 L464.6,298.3 L463.6,298.3 L462.6,298.4 L461.6,298.6 L460.6,298.8 L459.6,299.1 L458.6,299.3 L457.6,299.7 L456.6,300.0 L455.6,300.3 L454.6,300.6 L453.6,300.9 L452.6,301.2 L451.6,301.4 L450.6,301.7 L449.6,302.0 L448.6,302.3 L447.6,302.5 L446.6,302.7 L445.6,302.9 L444.6,303.0 L443.6,303.1 L442.6,302.9 L441.6,302.6 L440.6,302.3 L439.6,301.8 L438.6,301.3 L437.6,300.8 L436.6,300.1 L435.6,299.3 L434.6,298.3 L433.6,297.3 L432.6,296.2 L431.6,295.1 L430.6,294.1 L429.6,293.0 L428.6,291.8 L427.6,290.6 L426.6,289.5 L425.6,288.5 L424.6,287.5 L423.6,286.7 L422.6,285.9 L421.6,285.2 L420.6,284.6 L419.6,284.0 L418.6,283.5 L417.6,283.2 Z" fill="#000000" fill-opacity="0.65"/>
</g>
<circle cx="425.6" cy="361" r="4" fill="#3a14f5"/>
<circle cx="425.6" cy="369.1" r="4" fill="#ff0d0d"/>
<path d="M467.30,364.80 L471.80,372.80 L462.80,372.80 Z" fill="#ff0d0d"/>
<rect x="507.10" y="365.10" width="8.2" height="7.8" fill="#ff0d0d"/>
<path d="M522.90,364.80 L527.40,372.80 L518.40,372.80 Z" fill="#3a3aff"/>
<rect x="563.60" y="365.10" width="8.2" height="7.8" fill="#3a3aff"/>
<rect x="417.6" y="240.0" width="204.90" height="136.10" fill="none" stroke="#4a4a4a" stroke-width="1.25"/>
<line x1="417.60" y1="376.1" x2="417.60" y2="373.5" stroke="#4a4a4a" stroke-width="1"/>
<line x1="417.60" y1="240.0" x2="417.60" y2="242.6" stroke="#4a4a4a" stroke-width="1"/>
<text x="417.60" y="385.30" font-family="Liberation Sans" font-weight="bold" font-size="9.5" text-anchor="middle" fill="#111">0</text>
<line x1="446.06" y1="376.1" x2="446.06" y2="373.5" stroke="#4a4a4a" stroke-width="1"/>
<line x1="446.06" y1="240.0" x2="446.06" y2="242.6" stroke="#4a4a4a" stroke-width="1"/>
<text x="446.06" y="385.30" font-family="Liberation Sans" font-weight="bold" font-size="9.5" text-anchor="middle" fill="#111">5</text>
<line x1="474.52" y1="376.1" x2="474.52" y2="373.5" stroke="#4a4a4a" stroke-width="1"/>
<line x1="474.52" y1="240.0" x2="474.52" y2="242.6" stroke="#4a4a4a" stroke-width="1"/>
<text x="474.52" y="385.30" font-family="Liberation Sans" font-weight="bold" font-size="9.5" text-anchor="middle" fill="#111">10</text>
<line x1="502.98" y1="376.1" x2="502.98" y2="373.5" stroke="#4a4a4a" stroke-width="1"/>
<line x1="502.98" y1="240.0" x2="502.98" y2="242.6" stroke="#4a4a4a" stroke-width="1"/>
<text x="502.98" y="385.30" font-family="Liberation Sans" font-weight="bold" font-size="9.5" text-anchor="middle" fill="#111">15</text>
<line x1="531.43" y1="376.1" x2="531.43" y2="373.5" stroke="#4a4a4a" stroke-width="1"/>
<line x1="531.43" y1="240.0" x2="531.43" y2="242.6" stroke="#4a4a4a" stroke-width="1"/>
<text x="531.43" y="385.30" font-family="Liberation Sans" font-weight="bold" font-size="9.5" text-anchor="middle" fill="#111">20</text>
<line x1="559.89" y1="376.1" x2="559.89" y2="373.5" stroke="#4a4a4a" stroke-width="1"/>
<line x1="559.89" y1="240.0" x2="559.89" y2="242.6" stroke="#4a4a4a" stroke-width="1"/>
<text x="559.89" y="385.30" font-family="Liberation Sans" font-weight="bold" font-size="9.5" text-anchor="middle" fill="#111">25</text>
<line x1="588.35" y1="376.1" x2="588.35" y2="373.5" stroke="#4a4a4a" stroke-width="1"/>
<line x1="588.35" y1="240.0" x2="588.35" y2="242.6" stroke="#4a4a4a" stroke-width="1"/>
<text x="588.35" y="385.30" font-family="Liberation Sans" font-weight="bold" font-size="9.5" text-anchor="middle" fill="#111">30</text>
<line x1="616.81" y1="376.1" x2="616.81" y2="373.5" stroke="#4a4a4a" stroke-width="1"/>
<line x1="616.81" y1="240.0" x2="616.81" y2="242.6" stroke="#4a4a4a" stroke-width="1"/>
<text x="616.81" y="385.30" font-family="Liberation Sans" font-weight="bold" font-size="9.5" text-anchor="middle" fill="#111">35</text>
<line x1="417.6" y1="376.10" x2="420.20000000000005" y2="376.10" stroke="#4a4a4a" stroke-width="1"/>
<line x1="622.5" y1="376.10" x2="619.9" y2="376.10" stroke="#4a4a4a" stroke-width="1"/>
<line x1="417.6" y1="356.66" x2="420.20000000000005" y2="356.66" stroke="#4a4a4a" stroke-width="1"/>
<line x1="622.5" y1="356.66" x2="619.9" y2="356.66" stroke="#4a4a4a" stroke-width="1"/>
<line x1="417.6" y1="337.21" x2="420.20000000000005" y2="337.21" stroke="#4a4a4a" stroke-width="1"/>
<line x1="622.5" y1="337.21" x2="619.9" y2="337.21" stroke="#4a4a4a" stroke-width="1"/>
<line x1="417.6" y1="317.77" x2="420.20000000000005" y2="317.77" stroke="#4a4a4a" stroke-width="1"/>
<line x1="622.5" y1="317.77" x2="619.9" y2="317.77" stroke="#4a4a4a" stroke-width="1"/>
<line x1="417.6" y1="298.33" x2="420.20000000000005" y2="298.33" stroke="#4a4a4a" stroke-width="1"/>
<line x1="622.5" y1="298.33" x2="619.9" y2="298.33" stroke="#4a4a4a" stroke-width="1"/>
<line x1="417.6" y1="278.89" x2="420.20000000000005" y2="278.89" stroke="#4a4a4a" stroke-width="1"/>
<line x1="622.5" y1="278.89" x2="619.9" y2="278.89" stroke="#4a4a4a" stroke-width="1"/>
<line x1="417.6" y1="259.44" x2="420.20000000000005" y2="259.44" stroke="#4a4a4a" stroke-width="1"/>
<line x1="622.5" y1="259.44" x2="619.9" y2="259.44" stroke="#4a4a4a" stroke-width="1"/>
</svg>
</body></html>
